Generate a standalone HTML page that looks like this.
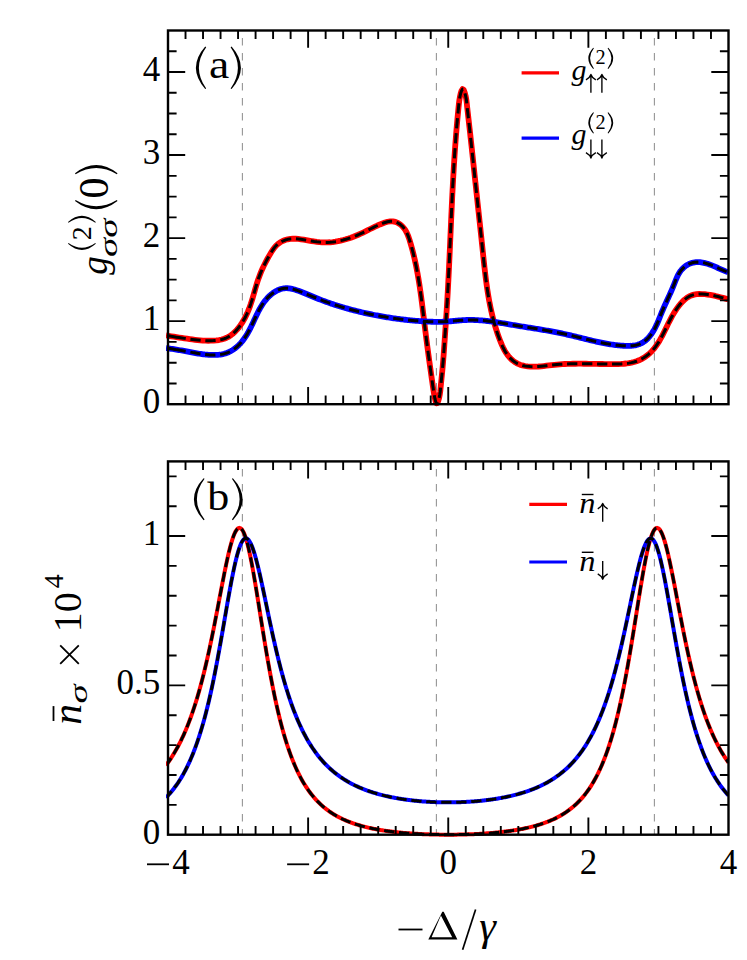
<!DOCTYPE html><html><head><meta charset="utf-8"><style>html,body{margin:0;padding:0;background:#fff}svg{display:block}</style></head><body><svg width="747" height="960" viewBox="0 0 747 960">
<rect width="100%" height="100%" fill="#fff"/>
<clipPath id="ca"><rect x="166.0" y="27.5" width="562.7" height="379.7"/></clipPath>
<line x1="242.4" y1="30.5" x2="242.4" y2="404.2" stroke="#969696" stroke-width="1.1" stroke-dasharray="7.6 7.4" stroke-dashoffset="-7.5"/>
<line x1="436.4" y1="30.5" x2="436.4" y2="404.2" stroke="#969696" stroke-width="1.1" stroke-dasharray="7.6 7.4" stroke-dashoffset="-7.5"/>
<line x1="654.4" y1="30.5" x2="654.4" y2="404.2" stroke="#969696" stroke-width="1.1" stroke-dasharray="7.6 7.4" stroke-dashoffset="-7.5"/>
<clipPath id="cak"><rect x="167.1" y="27.5" width="561.6" height="379.7"/></clipPath>
<g clip-path="url(#ca)" fill="none" stroke-linejoin="round">
<path d="M166.01,335.36 L168.62,335.83 L171.25,336.28 L173.88,336.72 L176.51,337.15 L179.15,337.56 L181.79,337.96 L184.44,338.36 L187.08,338.74 L189.72,339.12 L192.35,339.47 L194.99,339.80 L197.63,340.09 L200.27,340.34 L202.92,340.54 L205.58,340.67 L208.25,340.73 L210.93,340.71 L213.62,340.59 L216.32,340.37 L218.98,340.01 L221.60,339.47 L224.15,338.74 L226.60,337.78 L228.92,336.56 L231.12,335.10 L233.20,333.44 L235.16,331.61 L237.00,329.63 L238.73,327.54 L240.34,325.36 L241.85,323.14 L243.26,320.86 L244.57,318.55 L245.79,316.19 L246.93,313.80 L247.99,311.37 L248.98,308.91 L249.91,306.42 L250.79,303.91 L251.61,301.38 L252.40,298.84 L253.15,296.28 L253.89,293.71 L254.63,291.14 L255.36,288.57 L256.12,286.01 L256.89,283.46 L257.70,280.92 L258.56,278.39 L259.48,275.89 L260.45,273.42 L261.47,270.96 L262.54,268.53 L263.67,266.11 L264.85,263.72 L266.07,261.35 L267.34,259.00 L268.65,256.67 L270.01,254.36 L271.41,252.07 L272.86,249.80 L274.41,247.62 L276.13,245.61 L278.09,243.82 L280.27,242.29 L282.64,241.04 L285.14,240.05 L287.74,239.33 L290.37,238.89 L293.01,238.71 L295.65,238.75 L298.30,238.97 L300.96,239.30 L303.60,239.71 L306.25,240.15 L308.89,240.60 L311.53,241.03 L314.17,241.44 L316.81,241.79 L319.45,242.08 L322.10,242.29 L324.74,242.40 L327.40,242.40 L330.05,242.27 L332.71,242.02 L335.36,241.66 L337.99,241.20 L340.62,240.66 L343.22,240.02 L345.79,239.31 L348.35,238.53 L350.88,237.68 L353.38,236.76 L355.85,235.78 L358.30,234.75 L360.72,233.65 L363.11,232.52 L365.49,231.35 L367.86,230.16 L370.23,228.97 L372.61,227.79 L375.01,226.63 L377.43,225.51 L379.90,224.44 L382.40,223.44 L384.96,222.51 L387.57,221.76 L390.20,221.31 L392.82,221.32 L395.40,221.88 L397.88,222.94 L400.16,224.39 L402.17,226.12 L403.90,228.06 L405.37,230.19 L406.64,232.48 L407.73,234.89 L408.68,237.39 L409.53,239.95 L410.32,242.54 L411.08,245.13 L411.80,247.73 L412.49,250.33 L413.16,252.93 L413.80,255.53 L414.41,258.13 L415.00,260.74 L415.56,263.35 L416.10,265.96 L416.62,268.57 L417.12,271.19 L417.60,273.80 L418.06,276.42 L418.51,279.04 L418.94,281.66 L419.35,284.29 L419.75,286.91 L420.13,289.54 L420.51,292.17 L420.87,294.80 L421.23,297.43 L421.57,300.07 L421.91,302.71 L422.24,305.35 L422.57,307.99 L422.89,310.63 L423.21,313.27 L423.53,315.92 L423.85,318.57 L424.17,321.22 L424.49,323.87 L424.81,326.53 L425.13,329.18 L425.46,331.84 L425.79,334.50 L426.13,337.16 L426.47,339.82 L426.82,342.48 L427.16,345.14 L427.52,347.79 L427.87,350.45 L428.22,353.10 L428.58,355.74 L428.94,358.39 L429.31,361.03 L429.67,363.66 L430.04,366.29 L430.40,368.91 L430.77,371.53 L431.14,374.14 L431.51,376.74 L431.88,379.33 L432.25,381.91 L432.62,384.49 L432.99,387.05 L433.37,389.63 L433.80,392.33 L434.29,395.23 L434.89,398.42 L435.62,401.50 L436.46,403.38 L437.41,403.00 L438.37,400.62 L439.21,397.40 L439.82,394.34 L440.22,391.60 L440.50,389.05 L440.73,386.56 L440.97,384.02 L441.23,381.42 L441.50,378.77 L441.77,376.10 L442.05,373.41 L442.31,370.73 L442.56,368.05 L442.79,365.37 L443.02,362.71 L443.23,360.04 L443.44,357.38 L443.64,354.73 L443.84,352.08 L444.03,349.42 L444.21,346.77 L444.40,344.12 L444.58,341.47 L444.77,338.81 L444.95,336.16 L445.13,333.50 L445.31,330.84 L445.49,328.18 L445.67,325.52 L445.85,322.86 L446.03,320.20 L446.20,317.54 L446.38,314.88 L446.55,312.21 L446.71,309.55 L446.88,306.89 L447.04,304.22 L447.20,301.56 L447.36,298.89 L447.51,296.23 L447.67,293.57 L447.81,290.90 L447.96,288.24 L448.10,285.58 L448.24,282.91 L448.38,280.25 L448.51,277.59 L448.65,274.93 L448.78,272.26 L448.91,269.60 L449.03,266.94 L449.16,264.28 L449.28,261.61 L449.41,258.95 L449.53,256.29 L449.65,253.63 L449.77,250.97 L449.89,248.31 L450.01,245.64 L450.13,242.98 L450.24,240.32 L450.36,237.66 L450.48,235.00 L450.59,232.33 L450.71,229.67 L450.83,227.01 L450.95,224.35 L451.06,221.69 L451.18,219.03 L451.30,216.37 L451.42,213.70 L451.55,211.04 L451.67,208.38 L451.79,205.72 L451.92,203.06 L452.05,200.39 L452.18,197.73 L452.31,195.07 L452.44,192.41 L452.58,189.75 L452.71,187.08 L452.85,184.42 L453.00,181.76 L453.14,179.10 L453.29,176.43 L453.44,173.77 L453.60,171.11 L453.75,168.45 L453.91,165.78 L454.08,163.12 L454.25,160.46 L454.42,157.79 L454.59,155.13 L454.77,152.46 L454.96,149.80 L455.14,147.14 L455.34,144.47 L455.53,141.81 L455.74,139.14 L455.94,136.48 L456.15,133.81 L456.37,131.15 L456.59,128.48 L456.82,125.82 L457.05,123.16 L457.29,120.50 L457.53,117.86 L457.78,115.22 L458.03,112.60 L458.28,110.00 L458.54,107.41 L458.80,104.85 L459.09,102.28 L459.44,99.63 L459.94,96.79 L460.63,93.67 L461.54,90.70 L462.58,89.09 L463.69,89.89 L464.73,92.51 L465.57,95.68 L466.16,98.58 L466.55,101.24 L466.83,103.79 L467.09,106.33 L467.37,108.91 L467.66,111.53 L467.96,114.17 L468.27,116.83 L468.57,119.49 L468.87,122.15 L469.17,124.81 L469.47,127.46 L469.77,130.12 L470.07,132.78 L470.36,135.43 L470.65,138.09 L470.94,140.74 L471.23,143.39 L471.52,146.05 L471.81,148.70 L472.09,151.35 L472.38,154.00 L472.66,156.65 L472.95,159.30 L473.23,161.95 L473.51,164.60 L473.79,167.25 L474.08,169.90 L474.36,172.55 L474.64,175.20 L474.92,177.85 L475.20,180.50 L475.49,183.15 L475.77,185.79 L476.05,188.44 L476.33,191.09 L476.62,193.74 L476.90,196.39 L477.19,199.03 L477.47,201.68 L477.76,204.33 L478.04,206.98 L478.33,209.63 L478.62,212.28 L478.90,214.93 L479.19,217.58 L479.47,220.23 L479.76,222.88 L480.04,225.53 L480.33,228.18 L480.61,230.83 L480.89,233.48 L481.18,236.13 L481.46,238.78 L481.74,241.44 L482.02,244.09 L482.30,246.74 L482.57,249.40 L482.85,252.05 L483.13,254.71 L483.40,257.36 L483.68,260.02 L483.97,262.67 L484.26,265.33 L484.55,267.98 L484.85,270.63 L485.16,273.28 L485.48,275.93 L485.81,278.58 L486.16,281.22 L486.51,283.86 L486.88,286.50 L487.27,289.14 L487.67,291.77 L488.09,294.40 L488.53,297.03 L489.00,299.65 L489.48,302.26 L489.98,304.88 L490.51,307.48 L491.07,310.09 L491.65,312.68 L492.26,315.27 L492.90,317.86 L493.57,320.44 L494.27,323.01 L495.01,325.58 L495.77,328.13 L496.57,330.68 L497.41,333.23 L498.29,335.75 L499.21,338.26 L500.16,340.74 L501.16,343.20 L502.20,345.64 L503.32,348.03 L504.54,350.38 L505.91,352.67 L507.45,354.89 L509.16,357.00 L511.02,358.97 L513.04,360.75 L515.21,362.31 L517.51,363.62 L519.93,364.66 L522.46,365.44 L525.06,366.00 L527.71,366.37 L530.37,366.58 L533.04,366.66 L535.71,366.63 L538.37,366.50 L541.03,366.29 L543.70,366.04 L546.36,365.74 L549.02,365.43 L551.68,365.11 L554.33,364.82 L556.99,364.57 L559.65,364.35 L562.31,364.17 L564.96,364.02 L567.62,363.91 L570.28,363.82 L572.93,363.76 L575.59,363.73 L578.25,363.71 L580.91,363.71 L583.57,363.73 L586.23,363.76 L588.89,363.79 L591.55,363.84 L594.22,363.88 L596.89,363.93 L599.55,363.98 L602.23,364.02 L604.90,364.06 L607.57,364.09 L610.25,364.10 L612.93,364.10 L615.61,364.08 L618.29,364.03 L620.97,363.92 L623.63,363.75 L626.27,363.50 L628.89,363.13 L631.48,362.65 L634.03,362.03 L636.54,361.24 L639.01,360.28 L641.43,359.13 L643.77,357.79 L646.03,356.28 L648.19,354.61 L650.21,352.82 L652.09,350.92 L653.84,348.92 L655.47,346.83 L656.99,344.67 L658.43,342.45 L659.79,340.17 L661.09,337.86 L662.34,335.52 L663.56,333.15 L664.75,330.76 L665.93,328.37 L667.10,325.96 L668.28,323.57 L669.48,321.18 L670.71,318.80 L671.98,316.45 L673.29,314.13 L674.67,311.85 L676.12,309.60 L677.66,307.41 L679.29,305.27 L681.02,303.20 L682.87,301.24 L684.84,299.43 L686.93,297.82 L689.15,296.46 L691.52,295.39 L694.03,294.64 L696.65,294.20 L699.35,294.01 L702.10,294.04 L704.84,294.23 L707.55,294.55 L710.20,294.95 L712.79,295.42 L715.36,295.96 L717.91,296.56 L720.45,297.21 L723.01,297.91 L725.60,298.64 L728.23,299.40" stroke="#ff0000" stroke-width="5.8"/>
<path d="M165.99,348.00 L167.29,348.19 L168.59,348.39 L169.89,348.59 L171.18,348.79 L172.47,348.99 L173.76,349.20 L175.04,349.40 L176.33,349.61 L177.61,349.83 L178.90,350.04 L180.18,350.26 L181.46,350.48 L182.74,350.71 L184.02,350.94 L185.30,351.17 L186.58,351.41 L187.87,351.65 L189.15,351.89 L190.43,352.13 L191.72,352.38 L193.00,352.62 L194.29,352.85 L195.58,353.09 L196.87,353.31 L198.16,353.53 L199.45,353.74 L200.74,353.94 L202.04,354.12 L203.34,354.29 L204.63,354.45 L205.93,354.58 L207.24,354.70 L208.54,354.80 L209.84,354.88 L211.15,354.94 L212.46,354.97 L213.78,354.97 L215.09,354.95 L216.40,354.90 L217.72,354.81 L219.02,354.68 L220.32,354.52 L221.61,354.31 L222.89,354.06 L224.15,353.76 L225.40,353.41 L226.63,353.00 L227.84,352.53 L229.02,352.01 L230.19,351.44 L231.33,350.81 L232.44,350.14 L233.53,349.42 L234.60,348.66 L235.64,347.86 L236.65,347.03 L237.63,346.16 L238.59,345.26 L239.51,344.33 L240.41,343.37 L241.27,342.40 L242.11,341.40 L242.92,340.38 L243.70,339.35 L244.45,338.29 L245.19,337.22 L245.90,336.13 L246.59,335.03 L247.26,333.91 L247.92,332.78 L248.55,331.64 L249.18,330.49 L249.79,329.33 L250.38,328.16 L250.97,326.99 L251.55,325.80 L252.12,324.62 L252.68,323.43 L253.24,322.23 L253.79,321.04 L254.35,319.84 L254.90,318.65 L255.45,317.46 L256.01,316.27 L256.58,315.08 L257.15,313.90 L257.73,312.73 L258.32,311.56 L258.92,310.40 L259.54,309.25 L260.17,308.11 L260.83,306.99 L261.50,305.88 L262.19,304.78 L262.91,303.69 L263.65,302.63 L264.42,301.58 L265.22,300.55 L266.05,299.54 L266.91,298.55 L267.81,297.58 L268.74,296.63 L269.70,295.72 L270.69,294.84 L271.71,294.00 L272.76,293.20 L273.84,292.44 L274.94,291.73 L276.06,291.08 L277.21,290.48 L278.37,289.94 L279.56,289.47 L280.76,289.06 L281.97,288.73 L283.20,288.47 L284.45,288.30 L285.70,288.20 L286.97,288.20 L288.24,288.27 L289.52,288.41 L290.80,288.62 L292.08,288.89 L293.37,289.20 L294.65,289.57 L295.93,289.96 L297.21,290.39 L298.48,290.85 L299.74,291.31 L300.99,291.79 L302.24,292.28 L303.47,292.77 L304.70,293.26 L305.91,293.76 L307.13,294.26 L308.33,294.76 L309.54,295.27 L310.74,295.77 L311.94,296.27 L313.14,296.77 L314.33,297.26 L315.53,297.75 L316.74,298.24 L317.94,298.72 L319.15,299.20 L320.36,299.67 L321.57,300.13 L322.79,300.59 L324.01,301.04 L325.23,301.49 L326.45,301.93 L327.68,302.37 L328.91,302.80 L330.14,303.22 L331.37,303.65 L332.61,304.06 L333.84,304.47 L335.08,304.88 L336.33,305.28 L337.57,305.67 L338.81,306.06 L340.06,306.44 L341.31,306.82 L342.56,307.20 L343.82,307.57 L345.07,307.93 L346.33,308.29 L347.58,308.64 L348.84,308.99 L350.11,309.34 L351.37,309.68 L352.63,310.01 L353.90,310.34 L355.16,310.67 L356.43,310.99 L357.70,311.30 L358.97,311.61 L360.24,311.92 L361.51,312.22 L362.79,312.52 L364.06,312.81 L365.34,313.09 L366.61,313.38 L367.89,313.66 L369.17,313.93 L370.45,314.20 L371.73,314.46 L373.01,314.72 L374.29,314.98 L375.57,315.23 L376.85,315.47 L378.14,315.71 L379.42,315.95 L380.71,316.18 L381.99,316.41 L383.28,316.63 L384.56,316.85 L385.85,317.07 L387.14,317.28 L388.43,317.48 L389.72,317.68 L391.01,317.88 L392.30,318.07 L393.59,318.26 L394.88,318.44 L396.18,318.62 L397.47,318.79 L398.76,318.96 L400.06,319.13 L401.35,319.29 L402.65,319.45 L403.94,319.60 L405.24,319.75 L406.54,319.89 L407.84,320.03 L409.13,320.16 L410.43,320.29 L411.73,320.42 L413.03,320.54 L414.33,320.65 L415.63,320.77 L416.93,320.87 L418.23,320.98 L419.53,321.08 L420.83,321.17 L422.13,321.26 L423.44,321.35 L424.74,321.43 L426.04,321.50 L427.34,321.57 L428.65,321.63 L429.95,321.68 L431.25,321.73 L432.55,321.77 L433.86,321.80 L435.16,321.82 L436.47,321.83 L437.77,321.83 L439.07,321.83 L440.38,321.81 L441.68,321.78 L442.98,321.74 L444.29,321.69 L445.59,321.63 L446.89,321.56 L448.19,321.47 L449.50,321.37 L450.80,321.26 L452.10,321.14 L453.40,321.01 L454.71,320.88 L456.01,320.75 L457.31,320.62 L458.61,320.50 L459.91,320.38 L461.21,320.27 L462.52,320.18 L463.82,320.09 L465.12,320.03 L466.42,319.98 L467.72,319.95 L469.02,319.93 L470.32,319.93 L471.62,319.94 L472.92,319.96 L474.22,320.00 L475.52,320.05 L476.82,320.11 L478.12,320.19 L479.42,320.27 L480.72,320.37 L482.01,320.48 L483.31,320.59 L484.61,320.72 L485.91,320.86 L487.21,321.00 L488.50,321.15 L489.80,321.31 L491.10,321.48 L492.39,321.66 L493.69,321.84 L494.99,322.02 L496.28,322.22 L497.58,322.41 L498.87,322.61 L500.17,322.82 L501.46,323.03 L502.75,323.24 L504.05,323.46 L505.34,323.67 L506.63,323.89 L507.92,324.11 L509.21,324.34 L510.50,324.56 L511.80,324.78 L513.09,325.00 L514.38,325.22 L515.66,325.44 L516.95,325.66 L518.24,325.87 L519.53,326.08 L520.82,326.29 L522.10,326.50 L523.39,326.71 L524.68,326.92 L525.96,327.12 L527.25,327.33 L528.53,327.53 L529.82,327.73 L531.10,327.94 L532.39,328.14 L533.67,328.35 L534.95,328.55 L536.24,328.76 L537.52,328.97 L538.81,329.18 L540.09,329.39 L541.38,329.61 L542.66,329.82 L543.94,330.04 L545.23,330.26 L546.51,330.49 L547.80,330.72 L549.08,330.95 L550.37,331.18 L551.65,331.42 L552.94,331.66 L554.22,331.91 L555.50,332.15 L556.79,332.41 L558.07,332.66 L559.35,332.92 L560.63,333.18 L561.91,333.45 L563.19,333.72 L564.47,334.00 L565.75,334.28 L567.02,334.56 L568.30,334.85 L569.57,335.14 L570.85,335.44 L572.12,335.74 L573.39,336.04 L574.66,336.35 L575.93,336.65 L577.20,336.97 L578.46,337.28 L579.73,337.59 L581.00,337.91 L582.26,338.22 L583.53,338.54 L584.79,338.85 L586.06,339.16 L587.33,339.47 L588.59,339.78 L589.86,340.09 L591.13,340.39 L592.40,340.70 L593.67,340.99 L594.94,341.28 L596.21,341.57 L597.48,341.86 L598.75,342.13 L600.03,342.40 L601.30,342.67 L602.58,342.93 L603.86,343.18 L605.14,343.42 L606.43,343.65 L607.71,343.88 L609.00,344.10 L610.29,344.30 L611.58,344.50 L612.87,344.69 L614.17,344.86 L615.47,345.03 L616.77,345.18 L618.08,345.32 L619.39,345.44 L620.70,345.56 L622.02,345.66 L623.34,345.74 L624.66,345.81 L625.98,345.86 L627.30,345.88 L628.61,345.88 L629.92,345.84 L631.22,345.77 L632.51,345.66 L633.78,345.50 L635.05,345.29 L636.29,345.04 L637.51,344.73 L638.72,344.35 L639.90,343.92 L641.05,343.42 L642.17,342.84 L643.27,342.19 L644.33,341.47 L645.36,340.67 L646.36,339.82 L647.33,338.90 L648.26,337.93 L649.15,336.92 L650.02,335.87 L650.84,334.79 L651.64,333.69 L652.39,332.56 L653.11,331.42 L653.80,330.27 L654.45,329.12 L655.07,327.95 L655.67,326.77 L656.24,325.59 L656.80,324.40 L657.33,323.21 L657.85,322.01 L658.35,320.81 L658.85,319.61 L659.33,318.41 L659.81,317.20 L660.29,316.00 L660.77,314.79 L661.25,313.59 L661.74,312.40 L662.24,311.20 L662.74,310.01 L663.25,308.83 L663.77,307.64 L664.29,306.46 L664.82,305.28 L665.35,304.11 L665.89,302.93 L666.43,301.75 L666.97,300.57 L667.51,299.40 L668.06,298.22 L668.60,297.03 L669.14,295.85 L669.68,294.66 L670.22,293.47 L670.75,292.28 L671.28,291.07 L671.81,289.87 L672.33,288.66 L672.84,287.44 L673.34,286.22 L673.84,284.98 L674.32,283.74 L674.81,282.50 L675.30,281.26 L675.79,280.02 L676.30,278.79 L676.83,277.57 L677.38,276.37 L677.96,275.19 L678.59,274.04 L679.25,272.92 L679.96,271.83 L680.73,270.78 L681.56,269.77 L682.43,268.81 L683.36,267.90 L684.33,267.04 L685.34,266.23 L686.40,265.49 L687.50,264.81 L688.63,264.21 L689.79,263.67 L690.98,263.21 L692.19,262.82 L693.43,262.52 L694.69,262.31 L695.96,262.17 L697.25,262.12 L698.55,262.13 L699.86,262.21 L701.16,262.36 L702.47,262.56 L703.78,262.81 L705.08,263.11 L706.37,263.45 L707.64,263.83 L708.90,264.25 L710.15,264.69 L711.39,265.15 L712.62,265.64 L713.84,266.15 L715.05,266.67 L716.25,267.20 L717.45,267.74 L718.64,268.28 L719.83,268.82 L721.02,269.35 L722.21,269.88 L723.40,270.39 L724.59,270.89 L725.78,271.37 L726.98,271.82 L728.18,272.24" stroke="#0000ff" stroke-width="5.8"/>
</g>
<g clip-path="url(#cak)" fill="none" stroke-linejoin="round">
<path d="M166.01,335.36 L168.62,335.83 L171.25,336.28 L173.88,336.72 L176.51,337.15 L179.15,337.56 L181.79,337.96 L184.44,338.36 L187.08,338.74 L189.72,339.12 L192.35,339.47 L194.99,339.80 L197.63,340.09 L200.27,340.34 L202.92,340.54 L205.58,340.67 L208.25,340.73 L210.93,340.71 L213.62,340.59 L216.32,340.37 L218.98,340.01 L221.60,339.47 L224.15,338.74 L226.60,337.78 L228.92,336.56 L231.12,335.10 L233.20,333.44 L235.16,331.61 L237.00,329.63 L238.73,327.54 L240.34,325.36 L241.85,323.14 L243.26,320.86 L244.57,318.55 L245.79,316.19 L246.93,313.80 L247.99,311.37 L248.98,308.91 L249.91,306.42 L250.79,303.91 L251.61,301.38 L252.40,298.84 L253.15,296.28 L253.89,293.71 L254.63,291.14 L255.36,288.57 L256.12,286.01 L256.89,283.46 L257.70,280.92 L258.56,278.39 L259.48,275.89 L260.45,273.42 L261.47,270.96 L262.54,268.53 L263.67,266.11 L264.85,263.72 L266.07,261.35 L267.34,259.00 L268.65,256.67 L270.01,254.36 L271.41,252.07 L272.86,249.80 L274.41,247.62 L276.13,245.61 L278.09,243.82 L280.27,242.29 L282.64,241.04 L285.14,240.05 L287.74,239.33 L290.37,238.89 L293.01,238.71 L295.65,238.75 L298.30,238.97 L300.96,239.30 L303.60,239.71 L306.25,240.15 L308.89,240.60 L311.53,241.03 L314.17,241.44 L316.81,241.79 L319.45,242.08 L322.10,242.29 L324.74,242.40 L327.40,242.40 L330.05,242.27 L332.71,242.02 L335.36,241.66 L337.99,241.20 L340.62,240.66 L343.22,240.02 L345.79,239.31 L348.35,238.53 L350.88,237.68 L353.38,236.76 L355.85,235.78 L358.30,234.75 L360.72,233.65 L363.11,232.52 L365.49,231.35 L367.86,230.16 L370.23,228.97 L372.61,227.79 L375.01,226.63 L377.43,225.51 L379.90,224.44 L382.40,223.44 L384.96,222.51 L387.57,221.76 L390.20,221.31 L392.82,221.32 L395.40,221.88 L397.88,222.94 L400.16,224.39 L402.17,226.12 L403.90,228.06 L405.37,230.19 L406.64,232.48 L407.73,234.89 L408.68,237.39 L409.53,239.95 L410.32,242.54 L411.08,245.13 L411.80,247.73 L412.49,250.33 L413.16,252.93 L413.80,255.53 L414.41,258.13 L415.00,260.74 L415.56,263.35 L416.10,265.96 L416.62,268.57 L417.12,271.19 L417.60,273.80 L418.06,276.42 L418.51,279.04 L418.94,281.66 L419.35,284.29 L419.75,286.91 L420.13,289.54 L420.51,292.17 L420.87,294.80 L421.23,297.43 L421.57,300.07 L421.91,302.71 L422.24,305.35 L422.57,307.99 L422.89,310.63 L423.21,313.27 L423.53,315.92 L423.85,318.57 L424.17,321.22 L424.49,323.87 L424.81,326.53 L425.13,329.18 L425.46,331.84 L425.79,334.50 L426.13,337.16 L426.47,339.82 L426.82,342.48 L427.16,345.14 L427.52,347.79 L427.87,350.45 L428.22,353.10 L428.58,355.74 L428.94,358.39 L429.31,361.03 L429.67,363.66 L430.04,366.29 L430.40,368.91 L430.77,371.53 L431.14,374.14 L431.51,376.74 L431.88,379.33 L432.25,381.91 L432.62,384.49 L432.99,387.05 L433.37,389.63 L433.80,392.33 L434.29,395.23 L434.89,398.42 L435.62,401.50 L436.46,403.38 L437.41,403.00 L438.37,400.62 L439.21,397.40 L439.82,394.34 L440.22,391.60 L440.50,389.05 L440.73,386.56 L440.97,384.02 L441.23,381.42 L441.50,378.77 L441.77,376.10 L442.05,373.41 L442.31,370.73 L442.56,368.05 L442.79,365.37 L443.02,362.71 L443.23,360.04 L443.44,357.38 L443.64,354.73 L443.84,352.08 L444.03,349.42 L444.21,346.77 L444.40,344.12 L444.58,341.47 L444.77,338.81 L444.95,336.16 L445.13,333.50 L445.31,330.84 L445.49,328.18 L445.67,325.52 L445.85,322.86 L446.03,320.20 L446.20,317.54 L446.38,314.88 L446.55,312.21 L446.71,309.55 L446.88,306.89 L447.04,304.22 L447.20,301.56 L447.36,298.89 L447.51,296.23 L447.67,293.57 L447.81,290.90 L447.96,288.24 L448.10,285.58 L448.24,282.91 L448.38,280.25 L448.51,277.59 L448.65,274.93 L448.78,272.26 L448.91,269.60 L449.03,266.94 L449.16,264.28 L449.28,261.61 L449.41,258.95 L449.53,256.29 L449.65,253.63 L449.77,250.97 L449.89,248.31 L450.01,245.64 L450.13,242.98 L450.24,240.32 L450.36,237.66 L450.48,235.00 L450.59,232.33 L450.71,229.67 L450.83,227.01 L450.95,224.35 L451.06,221.69 L451.18,219.03 L451.30,216.37 L451.42,213.70 L451.55,211.04 L451.67,208.38 L451.79,205.72 L451.92,203.06 L452.05,200.39 L452.18,197.73 L452.31,195.07 L452.44,192.41 L452.58,189.75 L452.71,187.08 L452.85,184.42 L453.00,181.76 L453.14,179.10 L453.29,176.43 L453.44,173.77 L453.60,171.11 L453.75,168.45 L453.91,165.78 L454.08,163.12 L454.25,160.46 L454.42,157.79 L454.59,155.13 L454.77,152.46 L454.96,149.80 L455.14,147.14 L455.34,144.47 L455.53,141.81 L455.74,139.14 L455.94,136.48 L456.15,133.81 L456.37,131.15 L456.59,128.48 L456.82,125.82 L457.05,123.16 L457.29,120.50 L457.53,117.86 L457.78,115.22 L458.03,112.60 L458.28,110.00 L458.54,107.41 L458.80,104.85 L459.09,102.28 L459.44,99.63 L459.94,96.79 L460.63,93.67 L461.54,90.70 L462.58,89.09 L463.69,89.89 L464.73,92.51 L465.57,95.68 L466.16,98.58 L466.55,101.24 L466.83,103.79 L467.09,106.33 L467.37,108.91 L467.66,111.53 L467.96,114.17 L468.27,116.83 L468.57,119.49 L468.87,122.15 L469.17,124.81 L469.47,127.46 L469.77,130.12 L470.07,132.78 L470.36,135.43 L470.65,138.09 L470.94,140.74 L471.23,143.39 L471.52,146.05 L471.81,148.70 L472.09,151.35 L472.38,154.00 L472.66,156.65 L472.95,159.30 L473.23,161.95 L473.51,164.60 L473.79,167.25 L474.08,169.90 L474.36,172.55 L474.64,175.20 L474.92,177.85 L475.20,180.50 L475.49,183.15 L475.77,185.79 L476.05,188.44 L476.33,191.09 L476.62,193.74 L476.90,196.39 L477.19,199.03 L477.47,201.68 L477.76,204.33 L478.04,206.98 L478.33,209.63 L478.62,212.28 L478.90,214.93 L479.19,217.58 L479.47,220.23 L479.76,222.88 L480.04,225.53 L480.33,228.18 L480.61,230.83 L480.89,233.48 L481.18,236.13 L481.46,238.78 L481.74,241.44 L482.02,244.09 L482.30,246.74 L482.57,249.40 L482.85,252.05 L483.13,254.71 L483.40,257.36 L483.68,260.02 L483.97,262.67 L484.26,265.33 L484.55,267.98 L484.85,270.63 L485.16,273.28 L485.48,275.93 L485.81,278.58 L486.16,281.22 L486.51,283.86 L486.88,286.50 L487.27,289.14 L487.67,291.77 L488.09,294.40 L488.53,297.03 L489.00,299.65 L489.48,302.26 L489.98,304.88 L490.51,307.48 L491.07,310.09 L491.65,312.68 L492.26,315.27 L492.90,317.86 L493.57,320.44 L494.27,323.01 L495.01,325.58 L495.77,328.13 L496.57,330.68 L497.41,333.23 L498.29,335.75 L499.21,338.26 L500.16,340.74 L501.16,343.20 L502.20,345.64 L503.32,348.03 L504.54,350.38 L505.91,352.67 L507.45,354.89 L509.16,357.00 L511.02,358.97 L513.04,360.75 L515.21,362.31 L517.51,363.62 L519.93,364.66 L522.46,365.44 L525.06,366.00 L527.71,366.37 L530.37,366.58 L533.04,366.66 L535.71,366.63 L538.37,366.50 L541.03,366.29 L543.70,366.04 L546.36,365.74 L549.02,365.43 L551.68,365.11 L554.33,364.82 L556.99,364.57 L559.65,364.35 L562.31,364.17 L564.96,364.02 L567.62,363.91 L570.28,363.82 L572.93,363.76 L575.59,363.73 L578.25,363.71 L580.91,363.71 L583.57,363.73 L586.23,363.76 L588.89,363.79 L591.55,363.84 L594.22,363.88 L596.89,363.93 L599.55,363.98 L602.23,364.02 L604.90,364.06 L607.57,364.09 L610.25,364.10 L612.93,364.10 L615.61,364.08 L618.29,364.03 L620.97,363.92 L623.63,363.75 L626.27,363.50 L628.89,363.13 L631.48,362.65 L634.03,362.03 L636.54,361.24 L639.01,360.28 L641.43,359.13 L643.77,357.79 L646.03,356.28 L648.19,354.61 L650.21,352.82 L652.09,350.92 L653.84,348.92 L655.47,346.83 L656.99,344.67 L658.43,342.45 L659.79,340.17 L661.09,337.86 L662.34,335.52 L663.56,333.15 L664.75,330.76 L665.93,328.37 L667.10,325.96 L668.28,323.57 L669.48,321.18 L670.71,318.80 L671.98,316.45 L673.29,314.13 L674.67,311.85 L676.12,309.60 L677.66,307.41 L679.29,305.27 L681.02,303.20 L682.87,301.24 L684.84,299.43 L686.93,297.82 L689.15,296.46 L691.52,295.39 L694.03,294.64 L696.65,294.20 L699.35,294.01 L702.10,294.04 L704.84,294.23 L707.55,294.55 L710.20,294.95 L712.79,295.42 L715.36,295.96 L717.91,296.56 L720.45,297.21 L723.01,297.91 L725.60,298.64 L728.23,299.40" stroke="#000" stroke-width="3.0" stroke-dasharray="20 4.7 10.3 4.7 10.3 4.7 10.3 4.7 10.3 4.7 10.3 4.7 10.3 4.7 10.3 4.7 10.3 4.7 10.3 4.7 10.3 4.7 10.3 4.7 10.3 4.7 10.3 4.7 10.3 4.7 10.3 4.7 10.3 4.7 10.3 4.7 10.3 4.7 10.3 4.7 10.3 4.7 10.3 4.7 10.3 4.7 10.3 4.7 10.3 4.7 10.3 4.7 10.3 4.7 10.3 4.7 10.3 4.7 10.3 4.7 10.3 4.7 10.3 4.7 10.3 4.7 10.3 4.7 10.3 4.7 10.3 4.7 10.3 4.7 10.3 4.7 10.3 4.7 10.3 4.7 10.3 4.7 10.3 4.7 10.3 4.7 10.3 4.7 10.3 4.7 10.3 4.7 10.3 4.7 10.3 4.7 10.3 4.7 10.3 4.7 10.3 4.7 10.3 4.7 10.3 4.7 10.3 4.7 10.3 4.7 10.3 4.7 10.3 4.7 10.3 4.7 10.3 4.7 10.3 4.7 10.3 4.7 10.3 4.7 10.3 4.7 10.3 4.7 10.3 4.7 10.3 4.7 10.3 4.7 10.3 4.7 10.3 4.7 10.3 4.7 10.3 4.7 10.3 4.7 10.3 4.7 10.3 4.7 10.3 4.7 10.3 4.7 10.3 4.7 10.3 4.7 10.3 4.7 10.3 4.7 10.3 4.7 10.3 4.7 10.3 4.7 10.3 4.7 10.3 4.7 10.3 4.7 10.3 4.7 10.3 4.7 10.3 4.7 10.3 4.7 10.3 4.7 10.3 4.7 10.3 4.7 10.3 4.7 10.3 4.7 10.3 4.7 10.3 4.7 10.3 4.7 10.3 4.7 10.3 4.7 10.3 4.7 10.3 4.7 10.3 4.7 10.3 4.7 10.3 4.7 10.3 4.7 10.3 4.7 10.3 4.7 10.3 4.7 10.3 4.7 10.3 4.7 10.3 4.7 10.3 4.7 10.3 4.7 10.3 4.7 10.3 4.7 10.3 4.7 10.3 4.7 10.3 4.7 10.3 4.7 10.3 4.7 10.3 4.7 10.3 4.7 10.3 4.7 10.3 4.7 10.3 4.7 10.3 4.7 10.3 4.7 10.3 4.7 10.3 4.7 10.3 4.7 10.3 4.7 10.3 4.7 10.3 4.7 10.3 4.7 10.3 4.7 10.3 4.7 10.3 4.7 10.3 4.7 10.3 4.7 10.3 4.7 10.3 4.7 10.3 4.7 10.3 4.7 10.3 4.7 10.3 4.7 10.3 4.7 10.3 4.7 10.3 4.7 10.3 4.7 10.3 4.7 10.3 4.7 10.3 4.7 10.3 4.7 10.3 4.7 10.3 4.7 10.3 4.7 10.3 4.7 10.3 4.7 10.3 4.7 10.3 4.7 10.3 4.7 10.3 4.7 10.3 4.7 10.3 4.7 10.3 4.7 10.3 4.7"/>
<path d="M165.99,348.00 L167.29,348.19 L168.59,348.39 L169.89,348.59 L171.18,348.79 L172.47,348.99 L173.76,349.20 L175.04,349.40 L176.33,349.61 L177.61,349.83 L178.90,350.04 L180.18,350.26 L181.46,350.48 L182.74,350.71 L184.02,350.94 L185.30,351.17 L186.58,351.41 L187.87,351.65 L189.15,351.89 L190.43,352.13 L191.72,352.38 L193.00,352.62 L194.29,352.85 L195.58,353.09 L196.87,353.31 L198.16,353.53 L199.45,353.74 L200.74,353.94 L202.04,354.12 L203.34,354.29 L204.63,354.45 L205.93,354.58 L207.24,354.70 L208.54,354.80 L209.84,354.88 L211.15,354.94 L212.46,354.97 L213.78,354.97 L215.09,354.95 L216.40,354.90 L217.72,354.81 L219.02,354.68 L220.32,354.52 L221.61,354.31 L222.89,354.06 L224.15,353.76 L225.40,353.41 L226.63,353.00 L227.84,352.53 L229.02,352.01 L230.19,351.44 L231.33,350.81 L232.44,350.14 L233.53,349.42 L234.60,348.66 L235.64,347.86 L236.65,347.03 L237.63,346.16 L238.59,345.26 L239.51,344.33 L240.41,343.37 L241.27,342.40 L242.11,341.40 L242.92,340.38 L243.70,339.35 L244.45,338.29 L245.19,337.22 L245.90,336.13 L246.59,335.03 L247.26,333.91 L247.92,332.78 L248.55,331.64 L249.18,330.49 L249.79,329.33 L250.38,328.16 L250.97,326.99 L251.55,325.80 L252.12,324.62 L252.68,323.43 L253.24,322.23 L253.79,321.04 L254.35,319.84 L254.90,318.65 L255.45,317.46 L256.01,316.27 L256.58,315.08 L257.15,313.90 L257.73,312.73 L258.32,311.56 L258.92,310.40 L259.54,309.25 L260.17,308.11 L260.83,306.99 L261.50,305.88 L262.19,304.78 L262.91,303.69 L263.65,302.63 L264.42,301.58 L265.22,300.55 L266.05,299.54 L266.91,298.55 L267.81,297.58 L268.74,296.63 L269.70,295.72 L270.69,294.84 L271.71,294.00 L272.76,293.20 L273.84,292.44 L274.94,291.73 L276.06,291.08 L277.21,290.48 L278.37,289.94 L279.56,289.47 L280.76,289.06 L281.97,288.73 L283.20,288.47 L284.45,288.30 L285.70,288.20 L286.97,288.20 L288.24,288.27 L289.52,288.41 L290.80,288.62 L292.08,288.89 L293.37,289.20 L294.65,289.57 L295.93,289.96 L297.21,290.39 L298.48,290.85 L299.74,291.31 L300.99,291.79 L302.24,292.28 L303.47,292.77 L304.70,293.26 L305.91,293.76 L307.13,294.26 L308.33,294.76 L309.54,295.27 L310.74,295.77 L311.94,296.27 L313.14,296.77 L314.33,297.26 L315.53,297.75 L316.74,298.24 L317.94,298.72 L319.15,299.20 L320.36,299.67 L321.57,300.13 L322.79,300.59 L324.01,301.04 L325.23,301.49 L326.45,301.93 L327.68,302.37 L328.91,302.80 L330.14,303.22 L331.37,303.65 L332.61,304.06 L333.84,304.47 L335.08,304.88 L336.33,305.28 L337.57,305.67 L338.81,306.06 L340.06,306.44 L341.31,306.82 L342.56,307.20 L343.82,307.57 L345.07,307.93 L346.33,308.29 L347.58,308.64 L348.84,308.99 L350.11,309.34 L351.37,309.68 L352.63,310.01 L353.90,310.34 L355.16,310.67 L356.43,310.99 L357.70,311.30 L358.97,311.61 L360.24,311.92 L361.51,312.22 L362.79,312.52 L364.06,312.81 L365.34,313.09 L366.61,313.38 L367.89,313.66 L369.17,313.93 L370.45,314.20 L371.73,314.46 L373.01,314.72 L374.29,314.98 L375.57,315.23 L376.85,315.47 L378.14,315.71 L379.42,315.95 L380.71,316.18 L381.99,316.41 L383.28,316.63 L384.56,316.85 L385.85,317.07 L387.14,317.28 L388.43,317.48 L389.72,317.68 L391.01,317.88 L392.30,318.07 L393.59,318.26 L394.88,318.44 L396.18,318.62 L397.47,318.79 L398.76,318.96 L400.06,319.13 L401.35,319.29 L402.65,319.45 L403.94,319.60 L405.24,319.75 L406.54,319.89 L407.84,320.03 L409.13,320.16 L410.43,320.29 L411.73,320.42 L413.03,320.54 L414.33,320.65 L415.63,320.77 L416.93,320.87 L418.23,320.98 L419.53,321.08 L420.83,321.17 L422.13,321.26 L423.44,321.35 L424.74,321.43 L426.04,321.50 L427.34,321.57 L428.65,321.63 L429.95,321.68 L431.25,321.73 L432.55,321.77 L433.86,321.80 L435.16,321.82 L436.47,321.83 L437.77,321.83 L439.07,321.83 L440.38,321.81 L441.68,321.78 L442.98,321.74 L444.29,321.69 L445.59,321.63 L446.89,321.56 L448.19,321.47 L449.50,321.37 L450.80,321.26 L452.10,321.14 L453.40,321.01 L454.71,320.88 L456.01,320.75 L457.31,320.62 L458.61,320.50 L459.91,320.38 L461.21,320.27 L462.52,320.18 L463.82,320.09 L465.12,320.03 L466.42,319.98 L467.72,319.95 L469.02,319.93 L470.32,319.93 L471.62,319.94 L472.92,319.96 L474.22,320.00 L475.52,320.05 L476.82,320.11 L478.12,320.19 L479.42,320.27 L480.72,320.37 L482.01,320.48 L483.31,320.59 L484.61,320.72 L485.91,320.86 L487.21,321.00 L488.50,321.15 L489.80,321.31 L491.10,321.48 L492.39,321.66 L493.69,321.84 L494.99,322.02 L496.28,322.22 L497.58,322.41 L498.87,322.61 L500.17,322.82 L501.46,323.03 L502.75,323.24 L504.05,323.46 L505.34,323.67 L506.63,323.89 L507.92,324.11 L509.21,324.34 L510.50,324.56 L511.80,324.78 L513.09,325.00 L514.38,325.22 L515.66,325.44 L516.95,325.66 L518.24,325.87 L519.53,326.08 L520.82,326.29 L522.10,326.50 L523.39,326.71 L524.68,326.92 L525.96,327.12 L527.25,327.33 L528.53,327.53 L529.82,327.73 L531.10,327.94 L532.39,328.14 L533.67,328.35 L534.95,328.55 L536.24,328.76 L537.52,328.97 L538.81,329.18 L540.09,329.39 L541.38,329.61 L542.66,329.82 L543.94,330.04 L545.23,330.26 L546.51,330.49 L547.80,330.72 L549.08,330.95 L550.37,331.18 L551.65,331.42 L552.94,331.66 L554.22,331.91 L555.50,332.15 L556.79,332.41 L558.07,332.66 L559.35,332.92 L560.63,333.18 L561.91,333.45 L563.19,333.72 L564.47,334.00 L565.75,334.28 L567.02,334.56 L568.30,334.85 L569.57,335.14 L570.85,335.44 L572.12,335.74 L573.39,336.04 L574.66,336.35 L575.93,336.65 L577.20,336.97 L578.46,337.28 L579.73,337.59 L581.00,337.91 L582.26,338.22 L583.53,338.54 L584.79,338.85 L586.06,339.16 L587.33,339.47 L588.59,339.78 L589.86,340.09 L591.13,340.39 L592.40,340.70 L593.67,340.99 L594.94,341.28 L596.21,341.57 L597.48,341.86 L598.75,342.13 L600.03,342.40 L601.30,342.67 L602.58,342.93 L603.86,343.18 L605.14,343.42 L606.43,343.65 L607.71,343.88 L609.00,344.10 L610.29,344.30 L611.58,344.50 L612.87,344.69 L614.17,344.86 L615.47,345.03 L616.77,345.18 L618.08,345.32 L619.39,345.44 L620.70,345.56 L622.02,345.66 L623.34,345.74 L624.66,345.81 L625.98,345.86 L627.30,345.88 L628.61,345.88 L629.92,345.84 L631.22,345.77 L632.51,345.66 L633.78,345.50 L635.05,345.29 L636.29,345.04 L637.51,344.73 L638.72,344.35 L639.90,343.92 L641.05,343.42 L642.17,342.84 L643.27,342.19 L644.33,341.47 L645.36,340.67 L646.36,339.82 L647.33,338.90 L648.26,337.93 L649.15,336.92 L650.02,335.87 L650.84,334.79 L651.64,333.69 L652.39,332.56 L653.11,331.42 L653.80,330.27 L654.45,329.12 L655.07,327.95 L655.67,326.77 L656.24,325.59 L656.80,324.40 L657.33,323.21 L657.85,322.01 L658.35,320.81 L658.85,319.61 L659.33,318.41 L659.81,317.20 L660.29,316.00 L660.77,314.79 L661.25,313.59 L661.74,312.40 L662.24,311.20 L662.74,310.01 L663.25,308.83 L663.77,307.64 L664.29,306.46 L664.82,305.28 L665.35,304.11 L665.89,302.93 L666.43,301.75 L666.97,300.57 L667.51,299.40 L668.06,298.22 L668.60,297.03 L669.14,295.85 L669.68,294.66 L670.22,293.47 L670.75,292.28 L671.28,291.07 L671.81,289.87 L672.33,288.66 L672.84,287.44 L673.34,286.22 L673.84,284.98 L674.32,283.74 L674.81,282.50 L675.30,281.26 L675.79,280.02 L676.30,278.79 L676.83,277.57 L677.38,276.37 L677.96,275.19 L678.59,274.04 L679.25,272.92 L679.96,271.83 L680.73,270.78 L681.56,269.77 L682.43,268.81 L683.36,267.90 L684.33,267.04 L685.34,266.23 L686.40,265.49 L687.50,264.81 L688.63,264.21 L689.79,263.67 L690.98,263.21 L692.19,262.82 L693.43,262.52 L694.69,262.31 L695.96,262.17 L697.25,262.12 L698.55,262.13 L699.86,262.21 L701.16,262.36 L702.47,262.56 L703.78,262.81 L705.08,263.11 L706.37,263.45 L707.64,263.83 L708.90,264.25 L710.15,264.69 L711.39,265.15 L712.62,265.64 L713.84,266.15 L715.05,266.67 L716.25,267.20 L717.45,267.74 L718.64,268.28 L719.83,268.82 L721.02,269.35 L722.21,269.88 L723.40,270.39 L724.59,270.89 L725.78,271.37 L726.98,271.82 L728.18,272.24" stroke="#000" stroke-width="3.0" stroke-dasharray="20 4.7 10.3 4.7 10.3 4.7 10.3 4.7 10.3 4.7 10.3 4.7 10.3 4.7 10.3 4.7 10.3 4.7 10.3 4.7 10.3 4.7 10.3 4.7 10.3 4.7 10.3 4.7 10.3 4.7 10.3 4.7 10.3 4.7 10.3 4.7 10.3 4.7 10.3 4.7 10.3 4.7 10.3 4.7 10.3 4.7 10.3 4.7 10.3 4.7 10.3 4.7 10.3 4.7 10.3 4.7 10.3 4.7 10.3 4.7 10.3 4.7 10.3 4.7 10.3 4.7 10.3 4.7 10.3 4.7 10.3 4.7 10.3 4.7 10.3 4.7 10.3 4.7 10.3 4.7 10.3 4.7 10.3 4.7 10.3 4.7 10.3 4.7 10.3 4.7 10.3 4.7 10.3 4.7 10.3 4.7 10.3 4.7 10.3 4.7 10.3 4.7 10.3 4.7 10.3 4.7 10.3 4.7 10.3 4.7 10.3 4.7 10.3 4.7 10.3 4.7 10.3 4.7 10.3 4.7 10.3 4.7 10.3 4.7 10.3 4.7 10.3 4.7 10.3 4.7 10.3 4.7 10.3 4.7 10.3 4.7 10.3 4.7 10.3 4.7 10.3 4.7 10.3 4.7 10.3 4.7 10.3 4.7 10.3 4.7 10.3 4.7 10.3 4.7 10.3 4.7 10.3 4.7 10.3 4.7 10.3 4.7 10.3 4.7 10.3 4.7 10.3 4.7 10.3 4.7 10.3 4.7 10.3 4.7 10.3 4.7 10.3 4.7 10.3 4.7 10.3 4.7 10.3 4.7 10.3 4.7 10.3 4.7 10.3 4.7 10.3 4.7 10.3 4.7 10.3 4.7 10.3 4.7 10.3 4.7 10.3 4.7 10.3 4.7 10.3 4.7 10.3 4.7 10.3 4.7 10.3 4.7 10.3 4.7 10.3 4.7 10.3 4.7 10.3 4.7 10.3 4.7 10.3 4.7 10.3 4.7 10.3 4.7 10.3 4.7 10.3 4.7 10.3 4.7 10.3 4.7 10.3 4.7 10.3 4.7 10.3 4.7 10.3 4.7 10.3 4.7 10.3 4.7 10.3 4.7 10.3 4.7 10.3 4.7 10.3 4.7 10.3 4.7 10.3 4.7 10.3 4.7 10.3 4.7 10.3 4.7 10.3 4.7 10.3 4.7 10.3 4.7 10.3 4.7 10.3 4.7 10.3 4.7 10.3 4.7 10.3 4.7 10.3 4.7 10.3 4.7 10.3 4.7 10.3 4.7 10.3 4.7 10.3 4.7 10.3 4.7 10.3 4.7 10.3 4.7 10.3 4.7 10.3 4.7 10.3 4.7 10.3 4.7 10.3 4.7 10.3 4.7 10.3 4.7 10.3 4.7 10.3 4.7 10.3 4.7 10.3 4.7 10.3 4.7 10.3 4.7 10.3 4.7 10.3 4.7 10.3 4.7 10.3 4.7"/>
</g>
<path d="M185.52,404.2 v-8.6 M185.52,30.5 v8.6 M203.03,404.2 v-8.6 M203.03,30.5 v8.6 M220.55,404.2 v-8.6 M220.55,30.5 v8.6 M238.06,404.2 v-8.6 M238.06,30.5 v8.6 M255.58,404.2 v-8.6 M255.58,30.5 v8.6 M273.09,404.2 v-8.6 M273.09,30.5 v8.6 M290.61,404.2 v-8.6 M290.61,30.5 v8.6 M308.12,404.2 v-17.2 M308.12,30.5 v17.2 M325.64,404.2 v-8.6 M325.64,30.5 v8.6 M343.16,404.2 v-8.6 M343.16,30.5 v8.6 M360.67,404.2 v-8.6 M360.67,30.5 v8.6 M378.19,404.2 v-8.6 M378.19,30.5 v8.6 M395.70,404.2 v-8.6 M395.70,30.5 v8.6 M413.22,404.2 v-8.6 M413.22,30.5 v8.6 M430.73,404.2 v-8.6 M430.73,30.5 v8.6 M448.25,404.2 v-17.2 M448.25,30.5 v17.2 M465.77,404.2 v-8.6 M465.77,30.5 v8.6 M483.28,404.2 v-8.6 M483.28,30.5 v8.6 M500.80,404.2 v-8.6 M500.80,30.5 v8.6 M518.31,404.2 v-8.6 M518.31,30.5 v8.6 M535.83,404.2 v-8.6 M535.83,30.5 v8.6 M553.34,404.2 v-8.6 M553.34,30.5 v8.6 M570.86,404.2 v-8.6 M570.86,30.5 v8.6 M588.38,404.2 v-17.2 M588.38,30.5 v17.2 M605.89,404.2 v-8.6 M605.89,30.5 v8.6 M623.41,404.2 v-8.6 M623.41,30.5 v8.6 M640.92,404.2 v-8.6 M640.92,30.5 v8.6 M658.44,404.2 v-8.6 M658.44,30.5 v8.6 M675.95,404.2 v-8.6 M675.95,30.5 v8.6 M693.47,404.2 v-8.6 M693.47,30.5 v8.6 M710.98,404.2 v-8.6 M710.98,30.5 v8.6 M168.0,321.16 h17.2 M728.5,321.16 h-17.2 M168.0,238.11 h17.2 M728.5,238.11 h-17.2 M168.0,155.07 h17.2 M728.5,155.07 h-17.2 M168.0,72.02 h17.2 M728.5,72.02 h-17.2 M168.0,383.44 h8.6 M728.5,383.44 h-8.6 M168.0,362.68 h8.6 M728.5,362.68 h-8.6 M168.0,341.92 h8.6 M728.5,341.92 h-8.6 M168.0,300.39 h8.6 M728.5,300.39 h-8.6 M168.0,279.63 h8.6 M728.5,279.63 h-8.6 M168.0,258.87 h8.6 M728.5,258.87 h-8.6 M168.0,217.35 h8.6 M728.5,217.35 h-8.6 M168.0,196.59 h8.6 M728.5,196.59 h-8.6 M168.0,175.83 h8.6 M728.5,175.83 h-8.6 M168.0,134.31 h8.6 M728.5,134.31 h-8.6 M168.0,113.54 h8.6 M728.5,113.54 h-8.6 M168.0,92.78 h8.6 M728.5,92.78 h-8.6 M168.0,51.26 h8.6 M728.5,51.26 h-8.6" stroke="#000" stroke-width="1.9" fill="none"/>
<rect x="168.0" y="30.5" width="560.5" height="373.7" fill="none" stroke="#000" stroke-width="2.4"/>
<clipPath id="cb"><rect x="166.0" y="458.4" width="562.7" height="379.30000000000007"/></clipPath>
<line x1="242.4" y1="461.4" x2="242.4" y2="834.7" stroke="#969696" stroke-width="1.1" stroke-dasharray="7.6 7.4" stroke-dashoffset="-7.5"/>
<line x1="436.4" y1="461.4" x2="436.4" y2="834.7" stroke="#969696" stroke-width="1.1" stroke-dasharray="7.6 7.4" stroke-dashoffset="-7.5"/>
<line x1="654.4" y1="461.4" x2="654.4" y2="834.7" stroke="#969696" stroke-width="1.1" stroke-dasharray="7.6 7.4" stroke-dashoffset="-7.5"/>
<clipPath id="cbk"><rect x="167.1" y="458.4" width="561.6" height="379.30000000000007"/></clipPath>
<g clip-path="url(#cb)" fill="none" stroke-linejoin="round">
<path d="M165.90,765.44 L166.90,764.10 L167.91,762.71 L168.92,761.29 L169.92,759.83 L170.93,758.32 L171.94,756.77 L172.94,755.17 L173.95,753.53 L174.96,751.84 L175.96,750.09 L176.97,748.29 L177.98,746.44 L178.98,744.54 L179.99,742.57 L180.99,740.54 L182.00,738.46 L183.01,736.30 L184.01,734.08 L185.02,731.79 L186.03,729.43 L187.03,727.00 L188.04,724.48 L189.05,721.89 L190.05,719.22 L191.06,716.47 L192.07,713.63 L193.07,710.70 L194.08,707.68 L195.08,704.56 L196.09,701.35 L197.10,698.05 L198.10,694.64 L199.11,691.13 L200.12,687.51 L201.12,683.79 L202.13,679.96 L203.14,676.03 L204.14,671.98 L205.15,667.83 L206.16,663.56 L207.16,659.19 L208.17,654.71 L209.18,650.13 L210.18,645.44 L211.19,640.66 L212.19,635.78 L213.20,630.82 L214.21,625.78 L215.21,620.66 L216.22,615.49 L217.23,610.27 L218.23,605.01 L219.24,599.73 L220.25,594.45 L221.25,589.18 L222.26,583.95 L223.27,578.78 L224.27,573.70 L225.28,568.73 L226.28,563.90 L227.29,559.24 L228.30,554.77 L229.30,550.55 L230.31,546.58 L231.32,542.92 L232.32,539.59 L233.33,536.61 L234.34,534.03 L235.34,531.87 L236.35,530.15 L237.36,528.90 L238.36,528.13 L239.37,527.86 L240.37,528.10 L241.38,528.85 L242.39,530.11 L243.39,531.88 L244.40,534.14 L245.41,536.88 L246.41,540.09 L247.42,543.72 L248.43,547.77 L249.43,552.20 L250.44,556.97 L251.45,562.05 L252.45,567.41 L253.46,573.01 L254.47,578.81 L255.47,584.78 L256.48,590.89 L257.48,597.09 L258.49,603.36 L259.50,609.68 L260.50,616.01 L261.51,622.32 L262.52,628.60 L263.52,634.83 L264.53,640.98 L265.54,647.05 L266.54,653.01 L267.55,658.86 L268.56,664.59 L269.56,670.19 L270.57,675.65 L271.57,680.97 L272.58,686.14 L273.59,691.16 L274.59,696.04 L275.60,700.77 L276.61,705.34 L277.61,709.77 L278.62,714.06 L279.63,718.20 L280.63,722.20 L281.64,726.06 L282.65,729.78 L283.65,733.37 L284.66,736.84 L285.66,740.18 L286.67,743.39 L287.68,746.50 L288.68,749.48 L289.69,752.36 L290.70,755.14 L291.70,757.81 L292.71,760.38 L293.72,762.86 L294.72,765.24 L295.73,767.54 L296.74,769.76 L297.74,771.89 L298.75,773.95 L299.76,775.93 L300.76,777.84 L301.77,779.68 L302.77,781.45 L303.78,783.16 L304.79,784.81 L305.79,786.40 L306.80,787.94 L307.81,789.42 L308.81,790.84 L309.82,792.22 L310.83,793.55 L311.83,794.84 L312.84,796.07 L313.85,797.27 L314.85,798.43 L315.86,799.55 L316.86,800.63 L317.87,801.67 L318.88,802.68 L319.88,803.65 L320.89,804.60 L321.90,805.51 L322.90,806.39 L323.91,807.25 L324.92,808.07 L325.92,808.88 L326.93,809.65 L327.94,810.40 L328.94,811.13 L329.95,811.83 L330.95,812.51 L331.96,813.18 L332.97,813.82 L333.97,814.44 L334.98,815.04 L335.99,815.62 L336.99,816.19 L338.00,816.74 L339.01,817.27 L340.01,817.79 L341.02,818.29 L342.03,818.78 L343.03,819.26 L344.04,819.71 L345.05,820.16 L346.05,820.60 L347.06,821.02 L348.06,821.43 L349.07,821.82 L350.08,822.21 L351.08,822.59 L352.09,822.95 L353.10,823.31 L354.10,823.65 L355.11,823.99 L356.12,824.31 L357.12,824.63 L358.13,824.94 L359.14,825.24 L360.14,825.53 L361.15,825.82 L362.15,826.09 L363.16,826.36 L364.17,826.62 L365.17,826.88 L366.18,827.13 L367.19,827.37 L368.19,827.60 L369.20,827.83 L370.21,828.05 L371.21,828.27 L372.22,828.48 L373.23,828.69 L374.23,828.89 L375.24,829.08 L376.24,829.27 L377.25,829.46 L378.26,829.64 L379.26,829.81 L380.27,829.99 L381.28,830.15 L382.28,830.31 L383.29,830.47 L384.30,830.62 L385.30,830.77 L386.31,830.92 L387.32,831.06 L388.32,831.20 L389.33,831.33 L390.34,831.46 L391.34,831.59 L392.35,831.71 L393.35,831.83 L394.36,831.95 L395.37,832.06 L396.37,832.18 L397.38,832.28 L398.39,832.39 L399.39,832.49 L400.40,832.59 L401.41,832.68 L402.41,832.78 L403.42,832.87 L404.43,832.96 L405.43,833.04 L406.44,833.12 L407.44,833.20 L408.45,833.28 L409.46,833.36 L410.46,833.43 L411.47,833.50 L412.48,833.57 L413.48,833.63 L414.49,833.70 L415.50,833.76 L416.50,833.82 L417.51,833.87 L418.52,833.93 L419.52,833.98 L420.53,834.03 L421.53,834.08 L422.54,834.13 L423.55,834.17 L424.55,834.22 L425.56,834.26 L426.57,834.30 L427.57,834.33 L428.58,834.37 L429.59,834.40 L430.59,834.43 L431.60,834.46 L432.61,834.49 L433.61,834.52 L434.62,834.54 L435.62,834.56 L436.63,834.59 L437.64,834.60 L438.64,834.62 L439.65,834.64 L440.66,834.65 L441.66,834.66 L442.67,834.67 L443.68,834.68 L444.68,834.69 L445.69,834.69 L446.70,834.70 L447.70,834.70 L448.71,834.70 L449.72,834.70 L450.72,834.69 L451.73,834.69 L452.73,834.68 L453.74,834.67 L454.75,834.66 L455.75,834.65 L456.76,834.64 L457.77,834.62 L458.77,834.61 L459.78,834.59 L460.79,834.57 L461.79,834.54 L462.80,834.52 L463.81,834.49 L464.81,834.47 L465.82,834.44 L466.82,834.41 L467.83,834.37 L468.84,834.34 L469.84,834.30 L470.85,834.26 L471.86,834.22 L472.86,834.18 L473.87,834.13 L474.88,834.09 L475.88,834.04 L476.89,833.99 L477.90,833.93 L478.90,833.88 L479.91,833.82 L480.91,833.76 L481.92,833.70 L482.93,833.64 L483.93,833.57 L484.94,833.51 L485.95,833.43 L486.95,833.36 L487.96,833.29 L488.97,833.21 L489.97,833.13 L490.98,833.05 L491.99,832.96 L492.99,832.88 L494.00,832.79 L495.01,832.69 L496.01,832.60 L497.02,832.50 L498.02,832.40 L499.03,832.29 L500.04,832.19 L501.04,832.07 L502.05,831.96 L503.06,831.84 L504.06,831.72 L505.07,831.60 L506.08,831.47 L507.08,831.34 L508.09,831.21 L509.10,831.07 L510.10,830.93 L511.11,830.79 L512.11,830.64 L513.12,830.48 L514.13,830.33 L515.13,830.17 L516.14,830.00 L517.15,829.83 L518.15,829.65 L519.16,829.48 L520.17,829.29 L521.17,829.10 L522.18,828.91 L523.19,828.71 L524.19,828.50 L525.20,828.29 L526.20,828.07 L527.21,827.85 L528.22,827.62 L529.22,827.39 L530.23,827.15 L531.24,826.90 L532.24,826.65 L533.25,826.38 L534.26,826.12 L535.26,825.84 L536.27,825.56 L537.28,825.26 L538.28,824.97 L539.29,824.66 L540.30,824.34 L541.30,824.02 L542.31,823.68 L543.31,823.34 L544.32,822.98 L545.33,822.62 L546.33,822.24 L547.34,821.86 L548.35,821.46 L549.35,821.05 L550.36,820.63 L551.37,820.20 L552.37,819.75 L553.38,819.30 L554.39,818.82 L555.39,818.34 L556.40,817.84 L557.40,817.32 L558.41,816.79 L559.42,816.24 L560.42,815.68 L561.43,815.09 L562.44,814.49 L563.44,813.87 L564.45,813.23 L565.46,812.57 L566.46,811.89 L567.47,811.19 L568.48,810.47 L569.48,809.72 L570.49,808.94 L571.49,808.15 L572.50,807.32 L573.51,806.47 L574.51,805.59 L575.52,804.68 L576.53,803.74 L577.53,802.77 L578.54,801.76 L579.55,800.72 L580.55,799.64 L581.56,798.53 L582.57,797.38 L583.57,796.18 L584.58,794.95 L585.59,793.67 L586.59,792.34 L587.60,790.97 L588.60,789.54 L589.61,788.07 L590.62,786.54 L591.62,784.95 L592.63,783.31 L593.64,781.61 L594.64,779.84 L595.65,778.00 L596.66,776.10 L597.66,774.13 L598.67,772.08 L599.68,769.95 L600.68,767.74 L601.69,765.45 L602.69,763.07 L603.70,760.60 L604.71,758.04 L605.71,755.38 L606.72,752.61 L607.73,749.74 L608.73,746.76 L609.74,743.67 L610.75,740.47 L611.75,737.14 L612.76,733.68 L613.77,730.10 L614.77,726.39 L615.78,722.54 L616.78,718.56 L617.79,714.43 L618.80,710.16 L619.80,705.74 L620.81,701.18 L621.82,696.46 L622.82,691.60 L623.83,686.59 L624.84,681.43 L625.84,676.12 L626.85,670.68 L627.86,665.09 L628.86,659.37 L629.87,653.53 L630.87,647.58 L631.88,641.52 L632.89,635.38 L633.89,629.16 L634.90,622.88 L635.91,616.57 L636.91,610.24 L637.92,603.92 L638.93,597.64 L639.93,591.43 L640.94,585.32 L641.95,579.33 L642.95,573.52 L643.96,567.90 L644.97,562.52 L645.97,557.41 L646.98,552.61 L647.98,548.15 L648.99,544.07 L650.00,540.39 L651.00,537.15 L652.01,534.36 L653.02,532.06 L654.02,530.25 L655.03,528.94 L656.04,528.15 L657.04,527.86 L658.05,528.09 L659.06,528.81 L660.06,530.02 L661.07,531.70 L662.07,533.82 L663.08,536.37 L664.09,539.31 L665.09,542.61 L666.10,546.25 L667.11,550.19 L668.11,554.39 L669.12,558.83 L670.13,563.48 L671.13,568.30 L672.14,573.26 L673.15,578.33 L674.15,583.49 L675.16,588.72 L676.16,593.98 L677.17,599.26 L678.18,604.54 L679.18,609.80 L680.19,615.03 L681.20,620.21 L682.20,625.33 L683.21,630.38 L684.22,635.35 L685.22,640.23 L686.23,645.02 L687.24,649.72 L688.24,654.31 L689.25,658.80 L690.26,663.18 L691.26,667.45 L692.27,671.62 L693.27,675.67 L694.28,679.62 L695.29,683.46 L696.29,687.19 L697.30,690.81 L698.31,694.33 L699.31,697.75 L700.32,701.07 L701.33,704.28 L702.33,707.41 L703.34,710.44 L704.35,713.37 L705.35,716.22 L706.36,718.98 L707.36,721.66 L708.37,724.26 L709.38,726.78 L710.38,729.22 L711.39,731.59 L712.40,733.88 L713.40,736.11 L714.41,738.27 L715.42,740.36 L716.42,742.39 L717.43,744.36 L718.44,746.28 L719.44,748.13 L720.45,749.93 L721.45,751.68 L722.46,753.38 L723.47,755.03 L724.47,756.63 L725.48,758.18 L726.49,759.69 L727.49,761.16 L728.50,762.59" stroke="#ff0000" stroke-width="4"/>
<path d="M165.90,797.62 L166.90,796.59 L167.91,795.54 L168.92,794.44 L169.92,793.32 L170.93,792.15 L171.94,790.95 L172.94,789.70 L173.95,788.41 L174.96,787.08 L175.96,785.71 L176.97,784.29 L177.98,782.82 L178.98,781.29 L179.99,779.72 L180.99,778.09 L182.00,776.40 L183.01,774.66 L184.01,772.85 L185.02,770.98 L186.03,769.04 L187.03,767.03 L188.04,764.96 L189.05,762.81 L190.05,760.58 L191.06,758.27 L192.07,755.88 L193.07,753.40 L194.08,750.84 L195.08,748.18 L196.09,745.43 L197.10,742.59 L198.10,739.64 L199.11,736.59 L200.12,733.43 L201.12,730.17 L202.13,726.79 L203.14,723.30 L204.14,719.68 L205.15,715.95 L206.16,712.08 L207.16,708.09 L208.17,703.96 L209.18,699.70 L210.18,695.30 L211.19,690.77 L212.19,686.11 L213.20,681.31 L214.21,676.38 L215.21,671.33 L216.22,666.15 L217.23,660.86 L218.23,655.46 L219.24,649.96 L220.25,644.36 L221.25,638.69 L222.26,632.96 L223.27,627.17 L224.27,621.36 L225.28,615.53 L226.28,609.72 L227.29,603.94 L228.30,598.22 L229.30,592.59 L230.31,587.07 L231.32,581.71 L232.32,576.52 L233.33,571.54 L234.34,566.80 L235.34,562.34 L236.35,558.18 L237.36,554.35 L238.36,550.88 L239.37,547.80 L240.37,545.12 L241.38,542.88 L242.39,541.07 L243.39,539.71 L244.40,538.81 L245.41,538.38 L246.41,538.40 L247.42,538.87 L248.43,539.79 L249.43,541.13 L250.44,542.88 L251.45,545.02 L252.45,547.53 L253.46,550.38 L254.47,553.54 L255.47,556.99 L256.48,560.69 L257.48,564.63 L258.49,568.76 L259.50,573.07 L260.50,577.52 L261.51,582.09 L262.52,586.75 L263.52,591.49 L264.53,596.27 L265.54,601.09 L266.54,605.92 L267.55,610.74 L268.56,615.54 L269.56,620.31 L270.57,625.03 L271.57,629.70 L272.58,634.31 L273.59,638.84 L274.59,643.29 L275.60,647.66 L276.61,651.95 L277.61,656.14 L278.62,660.24 L279.63,664.24 L280.63,668.14 L281.64,671.95 L282.65,675.65 L283.65,679.26 L284.66,682.77 L285.66,686.19 L286.67,689.51 L287.68,692.73 L288.68,695.86 L289.69,698.91 L290.70,701.86 L291.70,704.72 L292.71,707.50 L293.72,710.20 L294.72,712.81 L295.73,715.35 L296.74,717.81 L297.74,720.20 L298.75,722.51 L299.76,724.76 L300.76,726.93 L301.77,729.04 L302.77,731.09 L303.78,733.08 L304.79,735.00 L305.79,736.87 L306.80,738.69 L307.81,740.44 L308.81,742.15 L309.82,743.81 L310.83,745.42 L311.83,746.98 L312.84,748.49 L313.85,749.96 L314.85,751.39 L315.86,752.78 L316.86,754.12 L317.87,755.43 L318.88,756.70 L319.88,757.94 L320.89,759.14 L321.90,760.31 L322.90,761.44 L323.91,762.54 L324.92,763.62 L325.92,764.66 L326.93,765.67 L327.94,766.66 L328.94,767.62 L329.95,768.55 L330.95,769.46 L331.96,770.35 L332.97,771.21 L333.97,772.05 L334.98,772.87 L335.99,773.66 L336.99,774.44 L338.00,775.19 L339.01,775.93 L340.01,776.65 L341.02,777.34 L342.03,778.02 L343.03,778.69 L344.04,779.34 L345.05,779.97 L346.05,780.58 L347.06,781.18 L348.06,781.76 L349.07,782.34 L350.08,782.89 L351.08,783.43 L352.09,783.96 L353.10,784.48 L354.10,784.98 L355.11,785.48 L356.12,785.96 L357.12,786.42 L358.13,786.88 L359.14,787.33 L360.14,787.76 L361.15,788.19 L362.15,788.60 L363.16,789.01 L364.17,789.40 L365.17,789.79 L366.18,790.17 L367.19,790.54 L368.19,790.90 L369.20,791.25 L370.21,791.59 L371.21,791.92 L372.22,792.25 L373.23,792.57 L374.23,792.88 L375.24,793.19 L376.24,793.48 L377.25,793.77 L378.26,794.06 L379.26,794.33 L380.27,794.60 L381.28,794.87 L382.28,795.12 L383.29,795.38 L384.30,795.62 L385.30,795.86 L386.31,796.09 L387.32,796.32 L388.32,796.54 L389.33,796.76 L390.34,796.97 L391.34,797.18 L392.35,797.38 L393.35,797.57 L394.36,797.76 L395.37,797.95 L396.37,798.13 L397.38,798.31 L398.39,798.48 L399.39,798.65 L400.40,798.81 L401.41,798.97 L402.41,799.12 L403.42,799.27 L404.43,799.42 L405.43,799.56 L406.44,799.70 L407.44,799.83 L408.45,799.96 L409.46,800.09 L410.46,800.21 L411.47,800.33 L412.48,800.44 L413.48,800.55 L414.49,800.66 L415.50,800.76 L416.50,800.86 L417.51,800.96 L418.52,801.05 L419.52,801.14 L420.53,801.23 L421.53,801.31 L422.54,801.39 L423.55,801.47 L424.55,801.54 L425.56,801.61 L426.57,801.68 L427.57,801.74 L428.58,801.80 L429.59,801.86 L430.59,801.91 L431.60,801.96 L432.61,802.01 L433.61,802.05 L434.62,802.09 L435.62,802.13 L436.63,802.17 L437.64,802.20 L438.64,802.23 L439.65,802.26 L440.66,802.28 L441.66,802.30 L442.67,802.32 L443.68,802.33 L444.68,802.34 L445.69,802.35 L446.70,802.36 L447.70,802.36 L448.71,802.36 L449.72,802.36 L450.72,802.35 L451.73,802.35 L452.73,802.33 L453.74,802.32 L454.75,802.30 L455.75,802.28 L456.76,802.26 L457.77,802.23 L458.77,802.20 L459.78,802.17 L460.79,802.14 L461.79,802.10 L462.80,802.06 L463.81,802.01 L464.81,801.96 L465.82,801.91 L466.82,801.86 L467.83,801.80 L468.84,801.74 L469.84,801.68 L470.85,801.61 L471.86,801.55 L472.86,801.47 L473.87,801.40 L474.88,801.32 L475.88,801.24 L476.89,801.15 L477.90,801.06 L478.90,800.97 L479.91,800.87 L480.91,800.77 L481.92,800.67 L482.93,800.56 L483.93,800.45 L484.94,800.34 L485.95,800.22 L486.95,800.10 L487.96,799.97 L488.97,799.84 L489.97,799.71 L490.98,799.57 L491.99,799.43 L492.99,799.29 L494.00,799.14 L495.01,798.98 L496.01,798.82 L497.02,798.66 L498.02,798.50 L499.03,798.32 L500.04,798.15 L501.04,797.97 L502.05,797.78 L503.06,797.59 L504.06,797.40 L505.07,797.19 L506.08,796.99 L507.08,796.78 L508.09,796.56 L509.10,796.34 L510.10,796.11 L511.11,795.88 L512.11,795.64 L513.12,795.40 L514.13,795.15 L515.13,794.89 L516.14,794.63 L517.15,794.36 L518.15,794.08 L519.16,793.80 L520.17,793.51 L521.17,793.21 L522.18,792.91 L523.19,792.60 L524.19,792.28 L525.20,791.95 L526.20,791.62 L527.21,791.28 L528.22,790.93 L529.22,790.57 L530.23,790.20 L531.24,789.82 L532.24,789.44 L533.25,789.04 L534.26,788.64 L535.26,788.23 L536.27,787.80 L537.28,787.37 L538.28,786.92 L539.29,786.46 L540.30,786.00 L541.30,785.52 L542.31,785.03 L543.31,784.52 L544.32,784.01 L545.33,783.48 L546.33,782.94 L547.34,782.38 L548.35,781.82 L549.35,781.23 L550.36,780.63 L551.37,780.02 L552.37,779.39 L553.38,778.75 L554.39,778.08 L555.39,777.41 L556.40,776.71 L557.40,775.99 L558.41,775.26 L559.42,774.51 L560.42,773.73 L561.43,772.94 L562.44,772.12 L563.44,771.29 L564.45,770.43 L565.46,769.54 L566.46,768.64 L567.47,767.70 L568.48,766.75 L569.48,765.76 L570.49,764.75 L571.49,763.71 L572.50,762.64 L573.51,761.54 L574.51,760.41 L575.52,759.24 L576.53,758.05 L577.53,756.81 L578.54,755.55 L579.55,754.24 L580.55,752.90 L581.56,751.51 L582.57,750.09 L583.57,748.62 L584.58,747.11 L585.59,745.56 L586.59,743.95 L587.60,742.30 L588.60,740.60 L589.61,738.84 L590.62,737.04 L591.62,735.17 L592.63,733.25 L593.64,731.27 L594.64,729.23 L595.65,727.12 L596.66,724.95 L597.66,722.71 L598.67,720.41 L599.68,718.03 L600.68,715.57 L601.69,713.04 L602.69,710.43 L603.70,707.74 L604.71,704.97 L605.71,702.11 L606.72,699.17 L607.73,696.14 L608.73,693.01 L609.74,689.80 L610.75,686.49 L611.75,683.08 L612.76,679.58 L613.77,675.98 L614.77,672.28 L615.78,668.48 L616.78,664.59 L617.79,660.59 L618.80,656.50 L619.80,652.32 L620.81,648.05 L621.82,643.68 L622.82,639.24 L623.83,634.71 L624.84,630.11 L625.84,625.45 L626.85,620.73 L627.86,615.96 L628.86,611.16 L629.87,606.34 L630.87,601.52 L631.88,596.70 L632.89,591.91 L633.89,587.17 L634.90,582.50 L635.91,577.92 L636.91,573.46 L637.92,569.14 L638.93,564.99 L639.93,561.03 L640.94,557.31 L641.95,553.83 L642.95,550.65 L643.96,547.77 L644.97,545.23 L645.97,543.06 L646.98,541.27 L647.98,539.89 L648.99,538.93 L650.00,538.42 L651.00,538.36 L652.01,538.76 L653.02,539.61 L654.02,540.93 L655.03,542.70 L656.04,544.91 L657.04,547.55 L658.05,550.59 L659.06,554.03 L660.06,557.82 L661.07,561.96 L662.07,566.39 L663.08,571.11 L664.09,576.07 L665.09,581.24 L666.10,586.59 L667.11,592.09 L668.11,597.72 L669.12,603.43 L670.13,609.20 L671.13,615.02 L672.14,620.84 L673.15,626.66 L674.15,632.45 L675.16,638.19 L676.16,643.87 L677.17,649.47 L678.18,654.98 L679.18,660.39 L680.19,665.69 L681.20,670.88 L682.20,675.94 L683.21,680.88 L684.22,685.69 L685.22,690.36 L686.23,694.90 L687.24,699.31 L688.24,703.59 L689.25,707.73 L690.26,711.73 L691.26,715.61 L692.27,719.36 L693.27,722.98 L694.28,726.48 L695.29,729.87 L696.29,733.15 L697.30,736.31 L698.31,739.37 L699.31,742.33 L700.32,745.19 L701.33,747.94 L702.33,750.61 L703.34,753.18 L704.35,755.66 L705.35,758.06 L706.36,760.38 L707.36,762.61 L708.37,764.77 L709.38,766.85 L710.38,768.87 L711.39,770.81 L712.40,772.69 L713.40,774.50 L714.41,776.25 L715.42,777.94 L716.42,779.58 L717.43,781.16 L718.44,782.68 L719.44,784.16 L720.45,785.58 L721.45,786.96 L722.46,788.30 L723.47,789.59 L724.47,790.84 L725.48,792.05 L726.49,793.21 L727.49,794.35 L728.50,795.44" stroke="#0000ff" stroke-width="4"/>
</g>
<g clip-path="url(#cbk)" fill="none" stroke-linejoin="round">
<path d="M165.90,765.44 L166.90,764.10 L167.91,762.71 L168.92,761.29 L169.92,759.83 L170.93,758.32 L171.94,756.77 L172.94,755.17 L173.95,753.53 L174.96,751.84 L175.96,750.09 L176.97,748.29 L177.98,746.44 L178.98,744.54 L179.99,742.57 L180.99,740.54 L182.00,738.46 L183.01,736.30 L184.01,734.08 L185.02,731.79 L186.03,729.43 L187.03,727.00 L188.04,724.48 L189.05,721.89 L190.05,719.22 L191.06,716.47 L192.07,713.63 L193.07,710.70 L194.08,707.68 L195.08,704.56 L196.09,701.35 L197.10,698.05 L198.10,694.64 L199.11,691.13 L200.12,687.51 L201.12,683.79 L202.13,679.96 L203.14,676.03 L204.14,671.98 L205.15,667.83 L206.16,663.56 L207.16,659.19 L208.17,654.71 L209.18,650.13 L210.18,645.44 L211.19,640.66 L212.19,635.78 L213.20,630.82 L214.21,625.78 L215.21,620.66 L216.22,615.49 L217.23,610.27 L218.23,605.01 L219.24,599.73 L220.25,594.45 L221.25,589.18 L222.26,583.95 L223.27,578.78 L224.27,573.70 L225.28,568.73 L226.28,563.90 L227.29,559.24 L228.30,554.77 L229.30,550.55 L230.31,546.58 L231.32,542.92 L232.32,539.59 L233.33,536.61 L234.34,534.03 L235.34,531.87 L236.35,530.15 L237.36,528.90 L238.36,528.13 L239.37,527.86 L240.37,528.10 L241.38,528.85 L242.39,530.11 L243.39,531.88 L244.40,534.14 L245.41,536.88 L246.41,540.09 L247.42,543.72 L248.43,547.77 L249.43,552.20 L250.44,556.97 L251.45,562.05 L252.45,567.41 L253.46,573.01 L254.47,578.81 L255.47,584.78 L256.48,590.89 L257.48,597.09 L258.49,603.36 L259.50,609.68 L260.50,616.01 L261.51,622.32 L262.52,628.60 L263.52,634.83 L264.53,640.98 L265.54,647.05 L266.54,653.01 L267.55,658.86 L268.56,664.59 L269.56,670.19 L270.57,675.65 L271.57,680.97 L272.58,686.14 L273.59,691.16 L274.59,696.04 L275.60,700.77 L276.61,705.34 L277.61,709.77 L278.62,714.06 L279.63,718.20 L280.63,722.20 L281.64,726.06 L282.65,729.78 L283.65,733.37 L284.66,736.84 L285.66,740.18 L286.67,743.39 L287.68,746.50 L288.68,749.48 L289.69,752.36 L290.70,755.14 L291.70,757.81 L292.71,760.38 L293.72,762.86 L294.72,765.24 L295.73,767.54 L296.74,769.76 L297.74,771.89 L298.75,773.95 L299.76,775.93 L300.76,777.84 L301.77,779.68 L302.77,781.45 L303.78,783.16 L304.79,784.81 L305.79,786.40 L306.80,787.94 L307.81,789.42 L308.81,790.84 L309.82,792.22 L310.83,793.55 L311.83,794.84 L312.84,796.07 L313.85,797.27 L314.85,798.43 L315.86,799.55 L316.86,800.63 L317.87,801.67 L318.88,802.68 L319.88,803.65 L320.89,804.60 L321.90,805.51 L322.90,806.39 L323.91,807.25 L324.92,808.07 L325.92,808.88 L326.93,809.65 L327.94,810.40 L328.94,811.13 L329.95,811.83 L330.95,812.51 L331.96,813.18 L332.97,813.82 L333.97,814.44 L334.98,815.04 L335.99,815.62 L336.99,816.19 L338.00,816.74 L339.01,817.27 L340.01,817.79 L341.02,818.29 L342.03,818.78 L343.03,819.26 L344.04,819.71 L345.05,820.16 L346.05,820.60 L347.06,821.02 L348.06,821.43 L349.07,821.82 L350.08,822.21 L351.08,822.59 L352.09,822.95 L353.10,823.31 L354.10,823.65 L355.11,823.99 L356.12,824.31 L357.12,824.63 L358.13,824.94 L359.14,825.24 L360.14,825.53 L361.15,825.82 L362.15,826.09 L363.16,826.36 L364.17,826.62 L365.17,826.88 L366.18,827.13 L367.19,827.37 L368.19,827.60 L369.20,827.83 L370.21,828.05 L371.21,828.27 L372.22,828.48 L373.23,828.69 L374.23,828.89 L375.24,829.08 L376.24,829.27 L377.25,829.46 L378.26,829.64 L379.26,829.81 L380.27,829.99 L381.28,830.15 L382.28,830.31 L383.29,830.47 L384.30,830.62 L385.30,830.77 L386.31,830.92 L387.32,831.06 L388.32,831.20 L389.33,831.33 L390.34,831.46 L391.34,831.59 L392.35,831.71 L393.35,831.83 L394.36,831.95 L395.37,832.06 L396.37,832.18 L397.38,832.28 L398.39,832.39 L399.39,832.49 L400.40,832.59 L401.41,832.68 L402.41,832.78 L403.42,832.87 L404.43,832.96 L405.43,833.04 L406.44,833.12 L407.44,833.20 L408.45,833.28 L409.46,833.36 L410.46,833.43 L411.47,833.50 L412.48,833.57 L413.48,833.63 L414.49,833.70 L415.50,833.76 L416.50,833.82 L417.51,833.87 L418.52,833.93 L419.52,833.98 L420.53,834.03 L421.53,834.08 L422.54,834.13 L423.55,834.17 L424.55,834.22 L425.56,834.26 L426.57,834.30 L427.57,834.33 L428.58,834.37 L429.59,834.40 L430.59,834.43 L431.60,834.46 L432.61,834.49 L433.61,834.52 L434.62,834.54 L435.62,834.56 L436.63,834.59 L437.64,834.60 L438.64,834.62 L439.65,834.64 L440.66,834.65 L441.66,834.66 L442.67,834.67 L443.68,834.68 L444.68,834.69 L445.69,834.69 L446.70,834.70 L447.70,834.70 L448.71,834.70 L449.72,834.70 L450.72,834.69 L451.73,834.69 L452.73,834.68 L453.74,834.67 L454.75,834.66 L455.75,834.65 L456.76,834.64 L457.77,834.62 L458.77,834.61 L459.78,834.59 L460.79,834.57 L461.79,834.54 L462.80,834.52 L463.81,834.49 L464.81,834.47 L465.82,834.44 L466.82,834.41 L467.83,834.37 L468.84,834.34 L469.84,834.30 L470.85,834.26 L471.86,834.22 L472.86,834.18 L473.87,834.13 L474.88,834.09 L475.88,834.04 L476.89,833.99 L477.90,833.93 L478.90,833.88 L479.91,833.82 L480.91,833.76 L481.92,833.70 L482.93,833.64 L483.93,833.57 L484.94,833.51 L485.95,833.43 L486.95,833.36 L487.96,833.29 L488.97,833.21 L489.97,833.13 L490.98,833.05 L491.99,832.96 L492.99,832.88 L494.00,832.79 L495.01,832.69 L496.01,832.60 L497.02,832.50 L498.02,832.40 L499.03,832.29 L500.04,832.19 L501.04,832.07 L502.05,831.96 L503.06,831.84 L504.06,831.72 L505.07,831.60 L506.08,831.47 L507.08,831.34 L508.09,831.21 L509.10,831.07 L510.10,830.93 L511.11,830.79 L512.11,830.64 L513.12,830.48 L514.13,830.33 L515.13,830.17 L516.14,830.00 L517.15,829.83 L518.15,829.65 L519.16,829.48 L520.17,829.29 L521.17,829.10 L522.18,828.91 L523.19,828.71 L524.19,828.50 L525.20,828.29 L526.20,828.07 L527.21,827.85 L528.22,827.62 L529.22,827.39 L530.23,827.15 L531.24,826.90 L532.24,826.65 L533.25,826.38 L534.26,826.12 L535.26,825.84 L536.27,825.56 L537.28,825.26 L538.28,824.97 L539.29,824.66 L540.30,824.34 L541.30,824.02 L542.31,823.68 L543.31,823.34 L544.32,822.98 L545.33,822.62 L546.33,822.24 L547.34,821.86 L548.35,821.46 L549.35,821.05 L550.36,820.63 L551.37,820.20 L552.37,819.75 L553.38,819.30 L554.39,818.82 L555.39,818.34 L556.40,817.84 L557.40,817.32 L558.41,816.79 L559.42,816.24 L560.42,815.68 L561.43,815.09 L562.44,814.49 L563.44,813.87 L564.45,813.23 L565.46,812.57 L566.46,811.89 L567.47,811.19 L568.48,810.47 L569.48,809.72 L570.49,808.94 L571.49,808.15 L572.50,807.32 L573.51,806.47 L574.51,805.59 L575.52,804.68 L576.53,803.74 L577.53,802.77 L578.54,801.76 L579.55,800.72 L580.55,799.64 L581.56,798.53 L582.57,797.38 L583.57,796.18 L584.58,794.95 L585.59,793.67 L586.59,792.34 L587.60,790.97 L588.60,789.54 L589.61,788.07 L590.62,786.54 L591.62,784.95 L592.63,783.31 L593.64,781.61 L594.64,779.84 L595.65,778.00 L596.66,776.10 L597.66,774.13 L598.67,772.08 L599.68,769.95 L600.68,767.74 L601.69,765.45 L602.69,763.07 L603.70,760.60 L604.71,758.04 L605.71,755.38 L606.72,752.61 L607.73,749.74 L608.73,746.76 L609.74,743.67 L610.75,740.47 L611.75,737.14 L612.76,733.68 L613.77,730.10 L614.77,726.39 L615.78,722.54 L616.78,718.56 L617.79,714.43 L618.80,710.16 L619.80,705.74 L620.81,701.18 L621.82,696.46 L622.82,691.60 L623.83,686.59 L624.84,681.43 L625.84,676.12 L626.85,670.68 L627.86,665.09 L628.86,659.37 L629.87,653.53 L630.87,647.58 L631.88,641.52 L632.89,635.38 L633.89,629.16 L634.90,622.88 L635.91,616.57 L636.91,610.24 L637.92,603.92 L638.93,597.64 L639.93,591.43 L640.94,585.32 L641.95,579.33 L642.95,573.52 L643.96,567.90 L644.97,562.52 L645.97,557.41 L646.98,552.61 L647.98,548.15 L648.99,544.07 L650.00,540.39 L651.00,537.15 L652.01,534.36 L653.02,532.06 L654.02,530.25 L655.03,528.94 L656.04,528.15 L657.04,527.86 L658.05,528.09 L659.06,528.81 L660.06,530.02 L661.07,531.70 L662.07,533.82 L663.08,536.37 L664.09,539.31 L665.09,542.61 L666.10,546.25 L667.11,550.19 L668.11,554.39 L669.12,558.83 L670.13,563.48 L671.13,568.30 L672.14,573.26 L673.15,578.33 L674.15,583.49 L675.16,588.72 L676.16,593.98 L677.17,599.26 L678.18,604.54 L679.18,609.80 L680.19,615.03 L681.20,620.21 L682.20,625.33 L683.21,630.38 L684.22,635.35 L685.22,640.23 L686.23,645.02 L687.24,649.72 L688.24,654.31 L689.25,658.80 L690.26,663.18 L691.26,667.45 L692.27,671.62 L693.27,675.67 L694.28,679.62 L695.29,683.46 L696.29,687.19 L697.30,690.81 L698.31,694.33 L699.31,697.75 L700.32,701.07 L701.33,704.28 L702.33,707.41 L703.34,710.44 L704.35,713.37 L705.35,716.22 L706.36,718.98 L707.36,721.66 L708.37,724.26 L709.38,726.78 L710.38,729.22 L711.39,731.59 L712.40,733.88 L713.40,736.11 L714.41,738.27 L715.42,740.36 L716.42,742.39 L717.43,744.36 L718.44,746.28 L719.44,748.13 L720.45,749.93 L721.45,751.68 L722.46,753.38 L723.47,755.03 L724.47,756.63 L725.48,758.18 L726.49,759.69 L727.49,761.16 L728.50,762.59" stroke="#000" stroke-width="3.0" stroke-dasharray="9 4.7 10.3 4.7 10.3 4.7 10.3 4.7 10.3 4.7 10.3 4.7 10.3 4.7 10.3 4.7 10.3 4.7 10.3 4.7 10.3 4.7 10.3 4.7 10.3 4.7 10.3 4.7 10.3 4.7 10.3 4.7 10.3 4.7 10.3 4.7 10.3 4.7 10.3 4.7 10.3 4.7 10.3 4.7 10.3 4.7 10.3 4.7 10.3 4.7 10.3 4.7 10.3 4.7 10.3 4.7 10.3 4.7 10.3 4.7 10.3 4.7 10.3 4.7 10.3 4.7 10.3 4.7 10.3 4.7 10.3 4.7 10.3 4.7 10.3 4.7 10.3 4.7 10.3 4.7 10.3 4.7 10.3 4.7 10.3 4.7 10.3 4.7 10.3 4.7 10.3 4.7 10.3 4.7 10.3 4.7 10.3 4.7 10.3 4.7 10.3 4.7 10.3 4.7 10.3 4.7 10.3 4.7 10.3 4.7 10.3 4.7 10.3 4.7 10.3 4.7 10.3 4.7 10.3 4.7 10.3 4.7 10.3 4.7 10.3 4.7 10.3 4.7 10.3 4.7 10.3 4.7 10.3 4.7 10.3 4.7 10.3 4.7 10.3 4.7 10.3 4.7 10.3 4.7 10.3 4.7 10.3 4.7 10.3 4.7 10.3 4.7 10.3 4.7 10.3 4.7 10.3 4.7 10.3 4.7 10.3 4.7 10.3 4.7 10.3 4.7 10.3 4.7 10.3 4.7 10.3 4.7 10.3 4.7 10.3 4.7 10.3 4.7 10.3 4.7 10.3 4.7 10.3 4.7 10.3 4.7 10.3 4.7 10.3 4.7 10.3 4.7 10.3 4.7 10.3 4.7 10.3 4.7 10.3 4.7 10.3 4.7 10.3 4.7 10.3 4.7 10.3 4.7 10.3 4.7 10.3 4.7 10.3 4.7 10.3 4.7 10.3 4.7 10.3 4.7 10.3 4.7 10.3 4.7 10.3 4.7 10.3 4.7 10.3 4.7 10.3 4.7 10.3 4.7 10.3 4.7 10.3 4.7 10.3 4.7 10.3 4.7 10.3 4.7 10.3 4.7 10.3 4.7 10.3 4.7 10.3 4.7 10.3 4.7 10.3 4.7 10.3 4.7 10.3 4.7 10.3 4.7 10.3 4.7 10.3 4.7 10.3 4.7 10.3 4.7 10.3 4.7 10.3 4.7 10.3 4.7 10.3 4.7 10.3 4.7 10.3 4.7 10.3 4.7 10.3 4.7 10.3 4.7 10.3 4.7 10.3 4.7 10.3 4.7 10.3 4.7 10.3 4.7 10.3 4.7 10.3 4.7 10.3 4.7 10.3 4.7 10.3 4.7 10.3 4.7 10.3 4.7 10.3 4.7 10.3 4.7 10.3 4.7 10.3 4.7 10.3 4.7 10.3 4.7 10.3 4.7 10.3 4.7 10.3 4.7 10.3 4.7 10.3 4.7"/>
<path d="M165.90,797.62 L166.90,796.59 L167.91,795.54 L168.92,794.44 L169.92,793.32 L170.93,792.15 L171.94,790.95 L172.94,789.70 L173.95,788.41 L174.96,787.08 L175.96,785.71 L176.97,784.29 L177.98,782.82 L178.98,781.29 L179.99,779.72 L180.99,778.09 L182.00,776.40 L183.01,774.66 L184.01,772.85 L185.02,770.98 L186.03,769.04 L187.03,767.03 L188.04,764.96 L189.05,762.81 L190.05,760.58 L191.06,758.27 L192.07,755.88 L193.07,753.40 L194.08,750.84 L195.08,748.18 L196.09,745.43 L197.10,742.59 L198.10,739.64 L199.11,736.59 L200.12,733.43 L201.12,730.17 L202.13,726.79 L203.14,723.30 L204.14,719.68 L205.15,715.95 L206.16,712.08 L207.16,708.09 L208.17,703.96 L209.18,699.70 L210.18,695.30 L211.19,690.77 L212.19,686.11 L213.20,681.31 L214.21,676.38 L215.21,671.33 L216.22,666.15 L217.23,660.86 L218.23,655.46 L219.24,649.96 L220.25,644.36 L221.25,638.69 L222.26,632.96 L223.27,627.17 L224.27,621.36 L225.28,615.53 L226.28,609.72 L227.29,603.94 L228.30,598.22 L229.30,592.59 L230.31,587.07 L231.32,581.71 L232.32,576.52 L233.33,571.54 L234.34,566.80 L235.34,562.34 L236.35,558.18 L237.36,554.35 L238.36,550.88 L239.37,547.80 L240.37,545.12 L241.38,542.88 L242.39,541.07 L243.39,539.71 L244.40,538.81 L245.41,538.38 L246.41,538.40 L247.42,538.87 L248.43,539.79 L249.43,541.13 L250.44,542.88 L251.45,545.02 L252.45,547.53 L253.46,550.38 L254.47,553.54 L255.47,556.99 L256.48,560.69 L257.48,564.63 L258.49,568.76 L259.50,573.07 L260.50,577.52 L261.51,582.09 L262.52,586.75 L263.52,591.49 L264.53,596.27 L265.54,601.09 L266.54,605.92 L267.55,610.74 L268.56,615.54 L269.56,620.31 L270.57,625.03 L271.57,629.70 L272.58,634.31 L273.59,638.84 L274.59,643.29 L275.60,647.66 L276.61,651.95 L277.61,656.14 L278.62,660.24 L279.63,664.24 L280.63,668.14 L281.64,671.95 L282.65,675.65 L283.65,679.26 L284.66,682.77 L285.66,686.19 L286.67,689.51 L287.68,692.73 L288.68,695.86 L289.69,698.91 L290.70,701.86 L291.70,704.72 L292.71,707.50 L293.72,710.20 L294.72,712.81 L295.73,715.35 L296.74,717.81 L297.74,720.20 L298.75,722.51 L299.76,724.76 L300.76,726.93 L301.77,729.04 L302.77,731.09 L303.78,733.08 L304.79,735.00 L305.79,736.87 L306.80,738.69 L307.81,740.44 L308.81,742.15 L309.82,743.81 L310.83,745.42 L311.83,746.98 L312.84,748.49 L313.85,749.96 L314.85,751.39 L315.86,752.78 L316.86,754.12 L317.87,755.43 L318.88,756.70 L319.88,757.94 L320.89,759.14 L321.90,760.31 L322.90,761.44 L323.91,762.54 L324.92,763.62 L325.92,764.66 L326.93,765.67 L327.94,766.66 L328.94,767.62 L329.95,768.55 L330.95,769.46 L331.96,770.35 L332.97,771.21 L333.97,772.05 L334.98,772.87 L335.99,773.66 L336.99,774.44 L338.00,775.19 L339.01,775.93 L340.01,776.65 L341.02,777.34 L342.03,778.02 L343.03,778.69 L344.04,779.34 L345.05,779.97 L346.05,780.58 L347.06,781.18 L348.06,781.76 L349.07,782.34 L350.08,782.89 L351.08,783.43 L352.09,783.96 L353.10,784.48 L354.10,784.98 L355.11,785.48 L356.12,785.96 L357.12,786.42 L358.13,786.88 L359.14,787.33 L360.14,787.76 L361.15,788.19 L362.15,788.60 L363.16,789.01 L364.17,789.40 L365.17,789.79 L366.18,790.17 L367.19,790.54 L368.19,790.90 L369.20,791.25 L370.21,791.59 L371.21,791.92 L372.22,792.25 L373.23,792.57 L374.23,792.88 L375.24,793.19 L376.24,793.48 L377.25,793.77 L378.26,794.06 L379.26,794.33 L380.27,794.60 L381.28,794.87 L382.28,795.12 L383.29,795.38 L384.30,795.62 L385.30,795.86 L386.31,796.09 L387.32,796.32 L388.32,796.54 L389.33,796.76 L390.34,796.97 L391.34,797.18 L392.35,797.38 L393.35,797.57 L394.36,797.76 L395.37,797.95 L396.37,798.13 L397.38,798.31 L398.39,798.48 L399.39,798.65 L400.40,798.81 L401.41,798.97 L402.41,799.12 L403.42,799.27 L404.43,799.42 L405.43,799.56 L406.44,799.70 L407.44,799.83 L408.45,799.96 L409.46,800.09 L410.46,800.21 L411.47,800.33 L412.48,800.44 L413.48,800.55 L414.49,800.66 L415.50,800.76 L416.50,800.86 L417.51,800.96 L418.52,801.05 L419.52,801.14 L420.53,801.23 L421.53,801.31 L422.54,801.39 L423.55,801.47 L424.55,801.54 L425.56,801.61 L426.57,801.68 L427.57,801.74 L428.58,801.80 L429.59,801.86 L430.59,801.91 L431.60,801.96 L432.61,802.01 L433.61,802.05 L434.62,802.09 L435.62,802.13 L436.63,802.17 L437.64,802.20 L438.64,802.23 L439.65,802.26 L440.66,802.28 L441.66,802.30 L442.67,802.32 L443.68,802.33 L444.68,802.34 L445.69,802.35 L446.70,802.36 L447.70,802.36 L448.71,802.36 L449.72,802.36 L450.72,802.35 L451.73,802.35 L452.73,802.33 L453.74,802.32 L454.75,802.30 L455.75,802.28 L456.76,802.26 L457.77,802.23 L458.77,802.20 L459.78,802.17 L460.79,802.14 L461.79,802.10 L462.80,802.06 L463.81,802.01 L464.81,801.96 L465.82,801.91 L466.82,801.86 L467.83,801.80 L468.84,801.74 L469.84,801.68 L470.85,801.61 L471.86,801.55 L472.86,801.47 L473.87,801.40 L474.88,801.32 L475.88,801.24 L476.89,801.15 L477.90,801.06 L478.90,800.97 L479.91,800.87 L480.91,800.77 L481.92,800.67 L482.93,800.56 L483.93,800.45 L484.94,800.34 L485.95,800.22 L486.95,800.10 L487.96,799.97 L488.97,799.84 L489.97,799.71 L490.98,799.57 L491.99,799.43 L492.99,799.29 L494.00,799.14 L495.01,798.98 L496.01,798.82 L497.02,798.66 L498.02,798.50 L499.03,798.32 L500.04,798.15 L501.04,797.97 L502.05,797.78 L503.06,797.59 L504.06,797.40 L505.07,797.19 L506.08,796.99 L507.08,796.78 L508.09,796.56 L509.10,796.34 L510.10,796.11 L511.11,795.88 L512.11,795.64 L513.12,795.40 L514.13,795.15 L515.13,794.89 L516.14,794.63 L517.15,794.36 L518.15,794.08 L519.16,793.80 L520.17,793.51 L521.17,793.21 L522.18,792.91 L523.19,792.60 L524.19,792.28 L525.20,791.95 L526.20,791.62 L527.21,791.28 L528.22,790.93 L529.22,790.57 L530.23,790.20 L531.24,789.82 L532.24,789.44 L533.25,789.04 L534.26,788.64 L535.26,788.23 L536.27,787.80 L537.28,787.37 L538.28,786.92 L539.29,786.46 L540.30,786.00 L541.30,785.52 L542.31,785.03 L543.31,784.52 L544.32,784.01 L545.33,783.48 L546.33,782.94 L547.34,782.38 L548.35,781.82 L549.35,781.23 L550.36,780.63 L551.37,780.02 L552.37,779.39 L553.38,778.75 L554.39,778.08 L555.39,777.41 L556.40,776.71 L557.40,775.99 L558.41,775.26 L559.42,774.51 L560.42,773.73 L561.43,772.94 L562.44,772.12 L563.44,771.29 L564.45,770.43 L565.46,769.54 L566.46,768.64 L567.47,767.70 L568.48,766.75 L569.48,765.76 L570.49,764.75 L571.49,763.71 L572.50,762.64 L573.51,761.54 L574.51,760.41 L575.52,759.24 L576.53,758.05 L577.53,756.81 L578.54,755.55 L579.55,754.24 L580.55,752.90 L581.56,751.51 L582.57,750.09 L583.57,748.62 L584.58,747.11 L585.59,745.56 L586.59,743.95 L587.60,742.30 L588.60,740.60 L589.61,738.84 L590.62,737.04 L591.62,735.17 L592.63,733.25 L593.64,731.27 L594.64,729.23 L595.65,727.12 L596.66,724.95 L597.66,722.71 L598.67,720.41 L599.68,718.03 L600.68,715.57 L601.69,713.04 L602.69,710.43 L603.70,707.74 L604.71,704.97 L605.71,702.11 L606.72,699.17 L607.73,696.14 L608.73,693.01 L609.74,689.80 L610.75,686.49 L611.75,683.08 L612.76,679.58 L613.77,675.98 L614.77,672.28 L615.78,668.48 L616.78,664.59 L617.79,660.59 L618.80,656.50 L619.80,652.32 L620.81,648.05 L621.82,643.68 L622.82,639.24 L623.83,634.71 L624.84,630.11 L625.84,625.45 L626.85,620.73 L627.86,615.96 L628.86,611.16 L629.87,606.34 L630.87,601.52 L631.88,596.70 L632.89,591.91 L633.89,587.17 L634.90,582.50 L635.91,577.92 L636.91,573.46 L637.92,569.14 L638.93,564.99 L639.93,561.03 L640.94,557.31 L641.95,553.83 L642.95,550.65 L643.96,547.77 L644.97,545.23 L645.97,543.06 L646.98,541.27 L647.98,539.89 L648.99,538.93 L650.00,538.42 L651.00,538.36 L652.01,538.76 L653.02,539.61 L654.02,540.93 L655.03,542.70 L656.04,544.91 L657.04,547.55 L658.05,550.59 L659.06,554.03 L660.06,557.82 L661.07,561.96 L662.07,566.39 L663.08,571.11 L664.09,576.07 L665.09,581.24 L666.10,586.59 L667.11,592.09 L668.11,597.72 L669.12,603.43 L670.13,609.20 L671.13,615.02 L672.14,620.84 L673.15,626.66 L674.15,632.45 L675.16,638.19 L676.16,643.87 L677.17,649.47 L678.18,654.98 L679.18,660.39 L680.19,665.69 L681.20,670.88 L682.20,675.94 L683.21,680.88 L684.22,685.69 L685.22,690.36 L686.23,694.90 L687.24,699.31 L688.24,703.59 L689.25,707.73 L690.26,711.73 L691.26,715.61 L692.27,719.36 L693.27,722.98 L694.28,726.48 L695.29,729.87 L696.29,733.15 L697.30,736.31 L698.31,739.37 L699.31,742.33 L700.32,745.19 L701.33,747.94 L702.33,750.61 L703.34,753.18 L704.35,755.66 L705.35,758.06 L706.36,760.38 L707.36,762.61 L708.37,764.77 L709.38,766.85 L710.38,768.87 L711.39,770.81 L712.40,772.69 L713.40,774.50 L714.41,776.25 L715.42,777.94 L716.42,779.58 L717.43,781.16 L718.44,782.68 L719.44,784.16 L720.45,785.58 L721.45,786.96 L722.46,788.30 L723.47,789.59 L724.47,790.84 L725.48,792.05 L726.49,793.21 L727.49,794.35 L728.50,795.44" stroke="#000" stroke-width="3.0" stroke-dasharray="8.5 4.7 10.3 4.7 10.3 4.7 10.3 4.7 10.3 4.7 10.3 4.7 10.3 4.7 10.3 4.7 10.3 4.7 10.3 4.7 10.3 4.7 10.3 4.7 10.3 4.7 10.3 4.7 10.3 4.7 10.3 4.7 10.3 4.7 10.3 4.7 10.3 4.7 10.3 4.7 10.3 4.7 10.3 4.7 10.3 4.7 10.3 4.7 10.3 4.7 10.3 4.7 10.3 4.7 10.3 4.7 10.3 4.7 10.3 4.7 10.3 4.7 10.3 4.7 10.3 4.7 10.3 4.7 10.3 4.7 10.3 4.7 10.3 4.7 10.3 4.7 10.3 4.7 10.3 4.7 10.3 4.7 10.3 4.7 10.3 4.7 10.3 4.7 10.3 4.7 10.3 4.7 10.3 4.7 10.3 4.7 10.3 4.7 10.3 4.7 10.3 4.7 10.3 4.7 10.3 4.7 10.3 4.7 10.3 4.7 10.3 4.7 10.3 4.7 10.3 4.7 10.3 4.7 10.3 4.7 10.3 4.7 10.3 4.7 10.3 4.7 10.3 4.7 10.3 4.7 10.3 4.7 10.3 4.7 10.3 4.7 10.3 4.7 10.3 4.7 10.3 4.7 10.3 4.7 10.3 4.7 10.3 4.7 10.3 4.7 10.3 4.7 10.3 4.7 10.3 4.7 10.3 4.7 10.3 4.7 10.3 4.7 10.3 4.7 10.3 4.7 10.3 4.7 10.3 4.7 10.3 4.7 10.3 4.7 10.3 4.7 10.3 4.7 10.3 4.7 10.3 4.7 10.3 4.7 10.3 4.7 10.3 4.7 10.3 4.7 10.3 4.7 10.3 4.7 10.3 4.7 10.3 4.7 10.3 4.7 10.3 4.7 10.3 4.7 10.3 4.7 10.3 4.7 10.3 4.7 10.3 4.7 10.3 4.7 10.3 4.7 10.3 4.7 10.3 4.7 10.3 4.7 10.3 4.7 10.3 4.7 10.3 4.7 10.3 4.7 10.3 4.7 10.3 4.7 10.3 4.7 10.3 4.7 10.3 4.7 10.3 4.7 10.3 4.7 10.3 4.7 10.3 4.7 10.3 4.7 10.3 4.7 10.3 4.7 10.3 4.7 10.3 4.7 10.3 4.7 10.3 4.7 10.3 4.7 10.3 4.7 10.3 4.7 10.3 4.7 10.3 4.7 10.3 4.7 10.3 4.7 10.3 4.7 10.3 4.7 10.3 4.7 10.3 4.7 10.3 4.7 10.3 4.7 10.3 4.7 10.3 4.7 10.3 4.7 10.3 4.7 10.3 4.7 10.3 4.7 10.3 4.7 10.3 4.7 10.3 4.7 10.3 4.7 10.3 4.7 10.3 4.7 10.3 4.7 10.3 4.7 10.3 4.7 10.3 4.7 10.3 4.7 10.3 4.7 10.3 4.7 10.3 4.7 10.3 4.7 10.3 4.7 10.3 4.7"/>
</g>
<path d="M185.52,834.7 v-8.6 M185.52,461.4 v8.6 M203.03,834.7 v-8.6 M203.03,461.4 v8.6 M220.55,834.7 v-8.6 M220.55,461.4 v8.6 M238.06,834.7 v-8.6 M238.06,461.4 v8.6 M255.58,834.7 v-8.6 M255.58,461.4 v8.6 M273.09,834.7 v-8.6 M273.09,461.4 v8.6 M290.61,834.7 v-8.6 M290.61,461.4 v8.6 M308.12,834.7 v-17.2 M308.12,461.4 v17.2 M325.64,834.7 v-8.6 M325.64,461.4 v8.6 M343.16,834.7 v-8.6 M343.16,461.4 v8.6 M360.67,834.7 v-8.6 M360.67,461.4 v8.6 M378.19,834.7 v-8.6 M378.19,461.4 v8.6 M395.70,834.7 v-8.6 M395.70,461.4 v8.6 M413.22,834.7 v-8.6 M413.22,461.4 v8.6 M430.73,834.7 v-8.6 M430.73,461.4 v8.6 M448.25,834.7 v-17.2 M448.25,461.4 v17.2 M465.77,834.7 v-8.6 M465.77,461.4 v8.6 M483.28,834.7 v-8.6 M483.28,461.4 v8.6 M500.80,834.7 v-8.6 M500.80,461.4 v8.6 M518.31,834.7 v-8.6 M518.31,461.4 v8.6 M535.83,834.7 v-8.6 M535.83,461.4 v8.6 M553.34,834.7 v-8.6 M553.34,461.4 v8.6 M570.86,834.7 v-8.6 M570.86,461.4 v8.6 M588.38,834.7 v-17.2 M588.38,461.4 v17.2 M605.89,834.7 v-8.6 M605.89,461.4 v8.6 M623.41,834.7 v-8.6 M623.41,461.4 v8.6 M640.92,834.7 v-8.6 M640.92,461.4 v8.6 M658.44,834.7 v-8.6 M658.44,461.4 v8.6 M675.95,834.7 v-8.6 M675.95,461.4 v8.6 M693.47,834.7 v-8.6 M693.47,461.4 v8.6 M710.98,834.7 v-8.6 M710.98,461.4 v8.6 M168.0,685.38 h17.2 M728.5,685.38 h-17.2 M168.0,536.06 h17.2 M728.5,536.06 h-17.2 M168.0,804.84 h8.6 M728.5,804.84 h-8.6 M168.0,774.97 h8.6 M728.5,774.97 h-8.6 M168.0,745.11 h8.6 M728.5,745.11 h-8.6 M168.0,715.24 h8.6 M728.5,715.24 h-8.6 M168.0,655.52 h8.6 M728.5,655.52 h-8.6 M168.0,625.65 h8.6 M728.5,625.65 h-8.6 M168.0,595.79 h8.6 M728.5,595.79 h-8.6 M168.0,565.92 h8.6 M728.5,565.92 h-8.6 M168.0,506.20 h8.6 M728.5,506.20 h-8.6 M168.0,476.33 h8.6 M728.5,476.33 h-8.6" stroke="#000" stroke-width="1.9" fill="none"/>
<rect x="168.0" y="461.4" width="560.5" height="373.30000000000007" fill="none" stroke="#000" stroke-width="2.4"/>
<text x="160.3" y="413.2" font-size="35" text-anchor="end" font-family="Liberation Serif, serif" >0</text>
<text x="160.3" y="330.2" font-size="35" text-anchor="end" font-family="Liberation Serif, serif" >1</text>
<text x="160.3" y="247.1" font-size="35" text-anchor="end" font-family="Liberation Serif, serif" >2</text>
<text x="160.3" y="164.1" font-size="35" text-anchor="end" font-family="Liberation Serif, serif" >3</text>
<text x="160.3" y="81.0" font-size="35" text-anchor="end" font-family="Liberation Serif, serif" >4</text>
<text x="160.3" y="843.7" font-size="35" text-anchor="end" font-family="Liberation Serif, serif" >0</text>
<text x="160.3" y="694.4" font-size="35" text-anchor="end" font-family="Liberation Serif, serif" >0.5</text>
<text x="160.3" y="545.1" font-size="35" text-anchor="end" font-family="Liberation Serif, serif" >1</text>
<rect x="147.0" y="863.4" width="22" height="1.8" fill="#000"/>
<text x="172.2" y="873.6" font-size="35" text-anchor="start" font-family="Liberation Serif, serif" >4</text>
<rect x="287.125" y="863.4" width="22" height="1.8" fill="#000"/>
<text x="312.325" y="873.6" font-size="35" text-anchor="start" font-family="Liberation Serif, serif" >2</text>
<text x="448.25" y="873.6" font-size="35" text-anchor="middle" font-family="Liberation Serif, serif" >0</text>
<text x="588.375" y="873.6" font-size="35" text-anchor="middle" font-family="Liberation Serif, serif" >2</text>
<text x="728.5" y="873.6" font-size="35" text-anchor="middle" font-family="Liberation Serif, serif" >4</text>
<path d="M205.20,46.60 Q186.60,67.85 205.20,89.10 L206.20,88.50 Q191.60,67.85 206.20,47.20 Z" fill="#000"/>
<text transform="translate(219.2,78.0) scale(1.14,1)" font-size="40" text-anchor="middle" font-family="Liberation Serif, serif" >a</text>
<path d="M231.60,46.60 Q250.20,67.85 231.60,89.10 L230.60,88.50 Q245.20,67.85 230.60,47.20 Z" fill="#000"/>
<path d="M203.60,478.20 Q184.20,499.20 203.60,520.20 L204.60,519.60 Q189.20,499.20 204.60,478.80 Z" fill="#000"/>
<text transform="translate(218.3,509.5) scale(1.1,1)" font-size="40" text-anchor="middle" font-family="Liberation Serif, serif" >b</text>
<path d="M232.90,478.20 Q252.30,499.20 232.90,520.20 L231.90,519.60 Q247.30,499.20 231.90,478.80 Z" fill="#000"/>
<line x1="521.6" y1="72.9" x2="559" y2="72.9" stroke="#ff0000" stroke-width="3.1"/>
<text x="571.4" y="79.9" font-size="30" text-anchor="start" font-family="Liberation Serif, serif" font-style="italic">g</text>
<path d="M593.20,47.80 Q583.40,58.35 593.20,68.90 L593.90,68.48 Q586.10,58.35 593.90,48.22 Z" fill="#000"/>
<text x="600.6" y="64.1" font-size="20.3" text-anchor="middle" font-family="Liberation Serif, serif" >2</text>
<path d="M608.30,47.80 Q618.10,58.35 608.30,68.90 L607.60,68.48 Q615.40,58.35 607.60,48.22 Z" fill="#000"/>
<path d="M590.9,92.8 L590.9,75.1 M585.9499999999999,79.9 Q589.9,77.74 590.9,74.5 Q591.9,77.74 595.85,79.9" fill="none" stroke="#000" stroke-width="1.35" stroke-linejoin="round"/>
<path d="M601.9,92.8 L601.9,75.1 M596.9499999999999,79.9 Q600.9,77.74 601.9,74.5 Q602.9,77.74 606.85,79.9" fill="none" stroke="#000" stroke-width="1.35" stroke-linejoin="round"/>
<line x1="521.6" y1="138.1" x2="559" y2="138.1" stroke="#0000ff" stroke-width="3.1"/>
<text x="571.4" y="144.4" font-size="30" text-anchor="start" font-family="Liberation Serif, serif" font-style="italic">g</text>
<path d="M593.20,112.30 Q583.40,122.85 593.20,133.40 L593.90,132.98 Q586.10,122.85 593.90,112.72 Z" fill="#000"/>
<text x="600.6" y="128.6" font-size="20.3" text-anchor="middle" font-family="Liberation Serif, serif" >2</text>
<path d="M608.30,112.30 Q618.10,122.85 608.30,133.40 L607.60,132.98 Q615.40,122.85 607.60,112.72 Z" fill="#000"/>
<path d="M590.9,139.6 L590.9,157.5 M585.9499999999999,152.7 Q589.9,154.85999999999999 590.9,158.1 Q591.9,154.85999999999999 595.85,152.7" fill="none" stroke="#000" stroke-width="1.35" stroke-linejoin="round"/>
<path d="M601.9,139.6 L601.9,157.5 M596.9499999999999,152.7 Q600.9,154.85999999999999 601.9,158.1 Q602.9,154.85999999999999 606.85,152.7" fill="none" stroke="#000" stroke-width="1.35" stroke-linejoin="round"/>
<line x1="529.3" y1="504.4" x2="567" y2="504.4" stroke="#ff0000" stroke-width="3.1"/>
<text transform="translate(579.3,513.4) scale(1.1,1)" font-size="29.5" text-anchor="start" font-family="Liberation Serif, serif" font-style="italic">n</text>
<rect x="581.8" y="493.79999999999995" width="11.7" height="1.4" fill="#000"/>
<path d="M602.7,521.7 L602.7,504.0 M597.75,508.79999999999995 Q601.7,506.64 602.7,503.4 Q603.7,506.64 607.6500000000001,508.79999999999995" fill="none" stroke="#000" stroke-width="1.35" stroke-linejoin="round"/>
<line x1="529.3" y1="562.0" x2="567" y2="562.0" stroke="#0000ff" stroke-width="3.1"/>
<text transform="translate(579.3,571.2) scale(1.1,1)" font-size="29.5" text-anchor="start" font-family="Liberation Serif, serif" font-style="italic">n</text>
<rect x="581.8" y="551.6" width="11.7" height="1.4" fill="#000"/>
<path d="M602.7,561.1 L602.7,578.6 M597.75,573.8000000000001 Q601.7,575.96 602.7,579.2 Q603.7,575.96 607.6500000000001,573.8000000000001" fill="none" stroke="#000" stroke-width="1.35" stroke-linejoin="round"/>
<g transform="translate(107,274.2) rotate(-90)"><text x="-0.6" y="0" font-size="37" text-anchor="start" font-family="Liberation Serif, serif" font-style="italic">g</text><text transform="translate(17.3,10.4) scale(1.55,1)" font-size="25" text-anchor="start" font-family="Liberation Serif, serif" font-style="italic">σσ</text><path d="M30.40,-39.00 Q18.00,-25.10 30.40,-11.20 L31.20,-11.68 Q21.60,-25.10 31.20,-38.52 Z" fill="#000"/><text x="40.9" y="-16.2" font-size="28" text-anchor="middle" font-family="Liberation Serif, serif" >2</text><path d="M52.20,-39.00 Q64.60,-25.10 52.20,-11.20 L51.40,-11.68 Q61.00,-25.10 51.40,-38.52 Z" fill="#000"/><path d="M73.20,-32.00 Q56.80,-10.75 73.20,10.50 L74.20,9.90 Q61.80,-10.75 74.20,-31.40 Z" fill="#000"/><text x="86.3" y="0.6" font-size="42" text-anchor="middle" font-family="Liberation Serif, serif" >0</text><path d="M101.00,-32.00 Q117.40,-10.75 101.00,10.50 L100.00,9.90 Q112.40,-10.75 100.00,-31.40 Z" fill="#000"/></g>
<g transform="translate(81,724.5) rotate(-90)"><text transform="translate(-0.3,0) scale(1.04,1)" font-size="40" text-anchor="start" font-family="Liberation Serif, serif" font-style="italic">n</text><rect x="3.5" y="-28.4" width="14.9" height="1.8" fill="#000"/><text transform="translate(21.0,6.4) scale(1.55,1)" font-size="25" text-anchor="start" font-family="Liberation Serif, serif" font-style="italic">σ</text><path d="M60.6,-20.8 L79.2,-2.2 M60.6,-2.2 L79.2,-20.8" stroke="#000" stroke-width="1.8" fill="none"/><text x="92.2" y="0" font-size="40" text-anchor="start" font-family="Liberation Serif, serif" >10</text><text x="143.3" y="-18.1" font-size="28" text-anchor="middle" font-family="Liberation Serif, serif" >4</text></g>
<rect x="398.5" y="928.6" width="24" height="1.8" fill="#000"/>
<path fill-rule="evenodd" d="M428.3,939.6 L442.3,911.7 L443.7,911.7 L457.4,939.6 Z M431.6,937.3 L452.2,937.3 L440.9,915.6 Z" fill="#000"/>
<path d="M462.6,949.7 L475.6,909.6" stroke="#000" stroke-width="1.7" fill="none"/>
<text transform="translate(479.3,939.6) scale(1.06,1)" font-size="40" text-anchor="start" font-family="Liberation Serif, serif" font-style="italic">γ</text>
</svg></body></html>
